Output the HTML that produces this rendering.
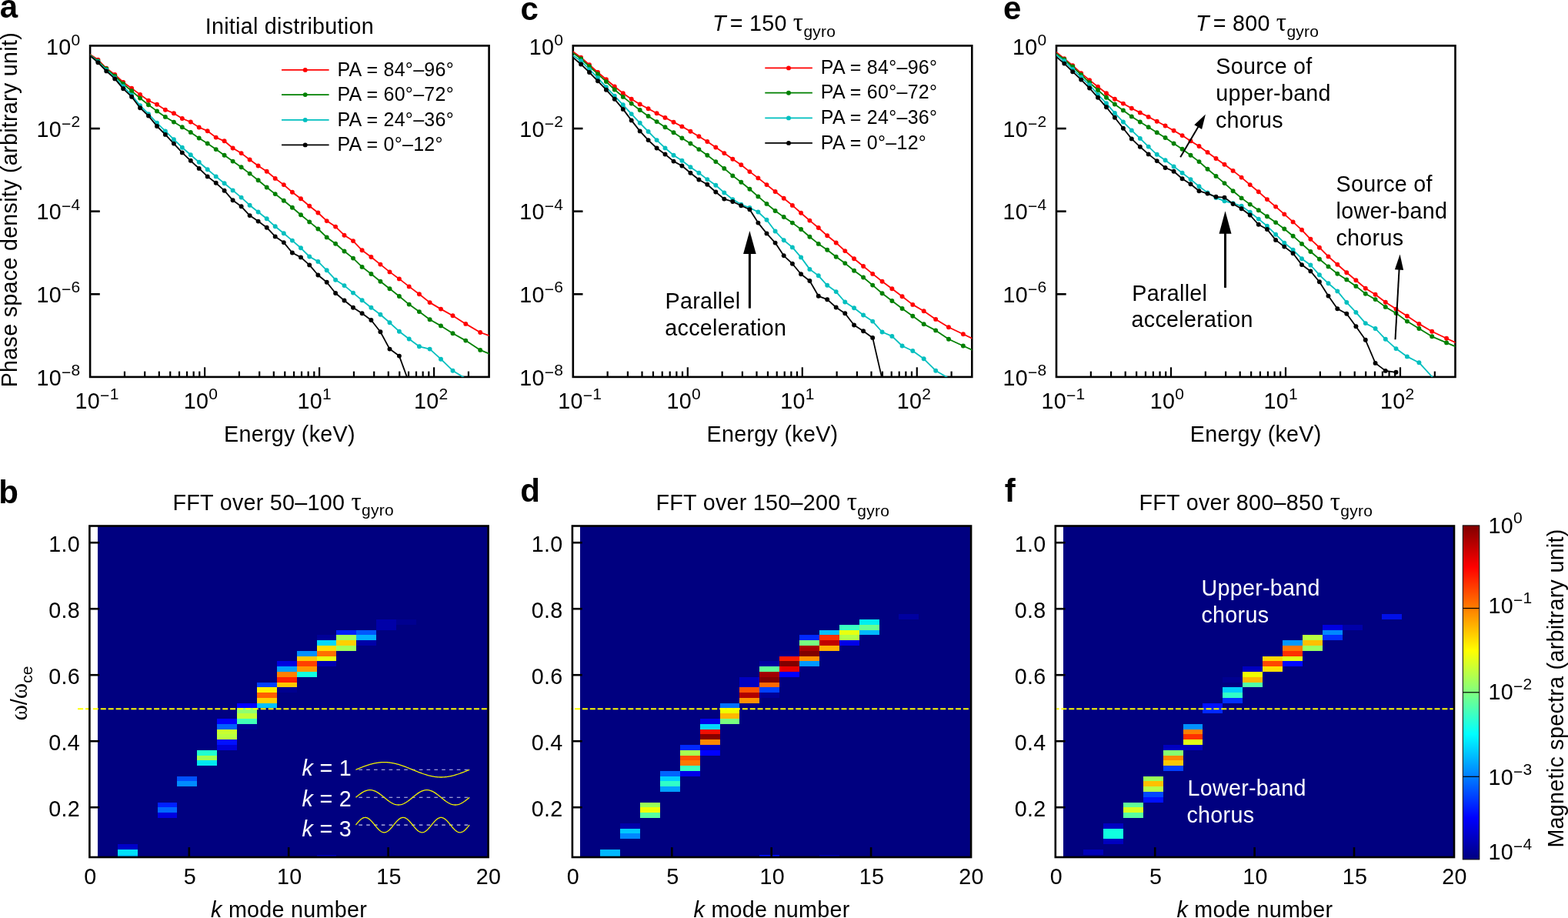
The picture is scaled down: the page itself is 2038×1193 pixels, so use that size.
<!DOCTYPE html>
<html><head><meta charset="utf-8"><title>Figure</title>
<style>html,body{margin:0;padding:0;background:#fff;} svg{display:block;}</style></head>
<body><svg width="2038" height="1193" viewBox="0 0 2038 1193" font-family="'Liberation Sans', Arial, Helvetica, sans-serif" font-size="28.7" fill="#000" letter-spacing="0.28">
<rect width="2038" height="1193" fill="#fff"/>
<line x1="117.10" y1="167.03" x2="129.80" y2="167.03" stroke="#000" stroke-width="2.6" />
<line x1="117.10" y1="274.65" x2="129.80" y2="274.65" stroke="#000" stroke-width="2.6" />
<line x1="117.10" y1="382.27" x2="129.80" y2="382.27" stroke="#000" stroke-width="2.6" />
<line x1="161.95" y1="489.90" x2="161.95" y2="482.60" stroke="#000" stroke-width="2.2" />
<line x1="188.19" y1="489.90" x2="188.19" y2="482.60" stroke="#000" stroke-width="2.2" />
<line x1="206.81" y1="489.90" x2="206.81" y2="482.60" stroke="#000" stroke-width="2.2" />
<line x1="221.25" y1="489.90" x2="221.25" y2="482.60" stroke="#000" stroke-width="2.2" />
<line x1="233.04" y1="489.90" x2="233.04" y2="482.60" stroke="#000" stroke-width="2.2" />
<line x1="243.02" y1="489.90" x2="243.02" y2="482.60" stroke="#000" stroke-width="2.2" />
<line x1="251.66" y1="489.90" x2="251.66" y2="482.60" stroke="#000" stroke-width="2.2" />
<line x1="259.28" y1="489.90" x2="259.28" y2="482.60" stroke="#000" stroke-width="2.2" />
<line x1="266.10" y1="489.90" x2="266.10" y2="477.30" stroke="#000" stroke-width="2.2" />
<line x1="310.95" y1="489.90" x2="310.95" y2="482.60" stroke="#000" stroke-width="2.2" />
<line x1="337.19" y1="489.90" x2="337.19" y2="482.60" stroke="#000" stroke-width="2.2" />
<line x1="355.81" y1="489.90" x2="355.81" y2="482.60" stroke="#000" stroke-width="2.2" />
<line x1="370.25" y1="489.90" x2="370.25" y2="482.60" stroke="#000" stroke-width="2.2" />
<line x1="382.04" y1="489.90" x2="382.04" y2="482.60" stroke="#000" stroke-width="2.2" />
<line x1="392.02" y1="489.90" x2="392.02" y2="482.60" stroke="#000" stroke-width="2.2" />
<line x1="400.66" y1="489.90" x2="400.66" y2="482.60" stroke="#000" stroke-width="2.2" />
<line x1="408.28" y1="489.90" x2="408.28" y2="482.60" stroke="#000" stroke-width="2.2" />
<line x1="415.10" y1="489.90" x2="415.10" y2="477.30" stroke="#000" stroke-width="2.2" />
<line x1="459.95" y1="489.90" x2="459.95" y2="482.60" stroke="#000" stroke-width="2.2" />
<line x1="486.19" y1="489.90" x2="486.19" y2="482.60" stroke="#000" stroke-width="2.2" />
<line x1="504.81" y1="489.90" x2="504.81" y2="482.60" stroke="#000" stroke-width="2.2" />
<line x1="519.25" y1="489.90" x2="519.25" y2="482.60" stroke="#000" stroke-width="2.2" />
<line x1="531.04" y1="489.90" x2="531.04" y2="482.60" stroke="#000" stroke-width="2.2" />
<line x1="541.02" y1="489.90" x2="541.02" y2="482.60" stroke="#000" stroke-width="2.2" />
<line x1="549.66" y1="489.90" x2="549.66" y2="482.60" stroke="#000" stroke-width="2.2" />
<line x1="557.28" y1="489.90" x2="557.28" y2="482.60" stroke="#000" stroke-width="2.2" />
<line x1="564.10" y1="489.90" x2="564.10" y2="477.30" stroke="#000" stroke-width="2.2" />
<line x1="608.95" y1="489.90" x2="608.95" y2="482.60" stroke="#000" stroke-width="2.2" />
<rect x="117.10" y="59.40" width="518.50" height="430.50" fill="none" stroke="#000" stroke-width="2.6"/>
<text x="104.5" y="71.4" text-anchor="end">10<tspan font-size="21.0" dy="-12.6">0</tspan></text>
<text x="104.5" y="177.5" text-anchor="end">10<tspan font-size="21.0" dy="-10.0">−</tspan><tspan font-size="21.0" dy="-2.6">2</tspan></text>
<text x="104.5" y="285.3" text-anchor="end">10<tspan font-size="21.0" dy="-10.0">−</tspan><tspan font-size="21.0" dy="-2.6">4</tspan></text>
<text x="104.5" y="393.0" text-anchor="end">10<tspan font-size="21.0" dy="-10.0">−</tspan><tspan font-size="21.0" dy="-2.6">6</tspan></text>
<text x="104.5" y="500.6" text-anchor="end">10<tspan font-size="21.0" dy="-10.0">−</tspan><tspan font-size="21.0" dy="-2.6">8</tspan></text>
<text x="126.1" y="531.3" text-anchor="middle">10<tspan font-size="21.0" dy="-10.0">−</tspan><tspan font-size="21.0" dy="-2.6">1</tspan></text>
<text x="261.1" y="531.3" text-anchor="middle">10<tspan font-size="21.0" dy="-12.6">0</tspan></text>
<text x="408.8" y="531.3" text-anchor="middle">10<tspan font-size="21.0" dy="-12.6">1</tspan></text>
<text x="560.3" y="531.3" text-anchor="middle">10<tspan font-size="21.0" dy="-12.6">2</tspan></text>
<text x="376.4" y="574.1" font-size="28.7" text-anchor="middle" >Energy (keV)</text>
<line x1="744.80" y1="167.03" x2="757.50" y2="167.03" stroke="#000" stroke-width="2.6" />
<line x1="744.80" y1="274.65" x2="757.50" y2="274.65" stroke="#000" stroke-width="2.6" />
<line x1="744.80" y1="382.27" x2="757.50" y2="382.27" stroke="#000" stroke-width="2.6" />
<line x1="789.65" y1="489.90" x2="789.65" y2="482.60" stroke="#000" stroke-width="2.2" />
<line x1="815.89" y1="489.90" x2="815.89" y2="482.60" stroke="#000" stroke-width="2.2" />
<line x1="834.51" y1="489.90" x2="834.51" y2="482.60" stroke="#000" stroke-width="2.2" />
<line x1="848.95" y1="489.90" x2="848.95" y2="482.60" stroke="#000" stroke-width="2.2" />
<line x1="860.74" y1="489.90" x2="860.74" y2="482.60" stroke="#000" stroke-width="2.2" />
<line x1="870.72" y1="489.90" x2="870.72" y2="482.60" stroke="#000" stroke-width="2.2" />
<line x1="879.36" y1="489.90" x2="879.36" y2="482.60" stroke="#000" stroke-width="2.2" />
<line x1="886.98" y1="489.90" x2="886.98" y2="482.60" stroke="#000" stroke-width="2.2" />
<line x1="893.80" y1="489.90" x2="893.80" y2="477.30" stroke="#000" stroke-width="2.2" />
<line x1="938.65" y1="489.90" x2="938.65" y2="482.60" stroke="#000" stroke-width="2.2" />
<line x1="964.89" y1="489.90" x2="964.89" y2="482.60" stroke="#000" stroke-width="2.2" />
<line x1="983.51" y1="489.90" x2="983.51" y2="482.60" stroke="#000" stroke-width="2.2" />
<line x1="997.95" y1="489.90" x2="997.95" y2="482.60" stroke="#000" stroke-width="2.2" />
<line x1="1009.74" y1="489.90" x2="1009.74" y2="482.60" stroke="#000" stroke-width="2.2" />
<line x1="1019.72" y1="489.90" x2="1019.72" y2="482.60" stroke="#000" stroke-width="2.2" />
<line x1="1028.36" y1="489.90" x2="1028.36" y2="482.60" stroke="#000" stroke-width="2.2" />
<line x1="1035.98" y1="489.90" x2="1035.98" y2="482.60" stroke="#000" stroke-width="2.2" />
<line x1="1042.80" y1="489.90" x2="1042.80" y2="477.30" stroke="#000" stroke-width="2.2" />
<line x1="1087.65" y1="489.90" x2="1087.65" y2="482.60" stroke="#000" stroke-width="2.2" />
<line x1="1113.89" y1="489.90" x2="1113.89" y2="482.60" stroke="#000" stroke-width="2.2" />
<line x1="1132.51" y1="489.90" x2="1132.51" y2="482.60" stroke="#000" stroke-width="2.2" />
<line x1="1146.95" y1="489.90" x2="1146.95" y2="482.60" stroke="#000" stroke-width="2.2" />
<line x1="1158.74" y1="489.90" x2="1158.74" y2="482.60" stroke="#000" stroke-width="2.2" />
<line x1="1168.72" y1="489.90" x2="1168.72" y2="482.60" stroke="#000" stroke-width="2.2" />
<line x1="1177.36" y1="489.90" x2="1177.36" y2="482.60" stroke="#000" stroke-width="2.2" />
<line x1="1184.98" y1="489.90" x2="1184.98" y2="482.60" stroke="#000" stroke-width="2.2" />
<line x1="1191.80" y1="489.90" x2="1191.80" y2="477.30" stroke="#000" stroke-width="2.2" />
<line x1="1236.65" y1="489.90" x2="1236.65" y2="482.60" stroke="#000" stroke-width="2.2" />
<rect x="744.80" y="59.40" width="518.50" height="430.50" fill="none" stroke="#000" stroke-width="2.6"/>
<text x="732.2" y="71.4" text-anchor="end">10<tspan font-size="21.0" dy="-12.6">0</tspan></text>
<text x="732.2" y="177.5" text-anchor="end">10<tspan font-size="21.0" dy="-10.0">−</tspan><tspan font-size="21.0" dy="-2.6">2</tspan></text>
<text x="732.2" y="285.3" text-anchor="end">10<tspan font-size="21.0" dy="-10.0">−</tspan><tspan font-size="21.0" dy="-2.6">4</tspan></text>
<text x="732.2" y="393.0" text-anchor="end">10<tspan font-size="21.0" dy="-10.0">−</tspan><tspan font-size="21.0" dy="-2.6">6</tspan></text>
<text x="732.2" y="500.6" text-anchor="end">10<tspan font-size="21.0" dy="-10.0">−</tspan><tspan font-size="21.0" dy="-2.6">8</tspan></text>
<text x="753.8" y="531.3" text-anchor="middle">10<tspan font-size="21.0" dy="-10.0">−</tspan><tspan font-size="21.0" dy="-2.6">1</tspan></text>
<text x="888.8" y="531.3" text-anchor="middle">10<tspan font-size="21.0" dy="-12.6">0</tspan></text>
<text x="1036.5" y="531.3" text-anchor="middle">10<tspan font-size="21.0" dy="-12.6">1</tspan></text>
<text x="1188.0" y="531.3" text-anchor="middle">10<tspan font-size="21.0" dy="-12.6">2</tspan></text>
<text x="1004.0" y="574.1" font-size="28.7" text-anchor="middle" >Energy (keV)</text>
<line x1="1373.00" y1="167.03" x2="1385.70" y2="167.03" stroke="#000" stroke-width="2.6" />
<line x1="1373.00" y1="274.65" x2="1385.70" y2="274.65" stroke="#000" stroke-width="2.6" />
<line x1="1373.00" y1="382.27" x2="1385.70" y2="382.27" stroke="#000" stroke-width="2.6" />
<line x1="1417.85" y1="489.90" x2="1417.85" y2="482.60" stroke="#000" stroke-width="2.2" />
<line x1="1444.09" y1="489.90" x2="1444.09" y2="482.60" stroke="#000" stroke-width="2.2" />
<line x1="1462.71" y1="489.90" x2="1462.71" y2="482.60" stroke="#000" stroke-width="2.2" />
<line x1="1477.15" y1="489.90" x2="1477.15" y2="482.60" stroke="#000" stroke-width="2.2" />
<line x1="1488.94" y1="489.90" x2="1488.94" y2="482.60" stroke="#000" stroke-width="2.2" />
<line x1="1498.92" y1="489.90" x2="1498.92" y2="482.60" stroke="#000" stroke-width="2.2" />
<line x1="1507.56" y1="489.90" x2="1507.56" y2="482.60" stroke="#000" stroke-width="2.2" />
<line x1="1515.18" y1="489.90" x2="1515.18" y2="482.60" stroke="#000" stroke-width="2.2" />
<line x1="1522.00" y1="489.90" x2="1522.00" y2="477.30" stroke="#000" stroke-width="2.2" />
<line x1="1566.85" y1="489.90" x2="1566.85" y2="482.60" stroke="#000" stroke-width="2.2" />
<line x1="1593.09" y1="489.90" x2="1593.09" y2="482.60" stroke="#000" stroke-width="2.2" />
<line x1="1611.71" y1="489.90" x2="1611.71" y2="482.60" stroke="#000" stroke-width="2.2" />
<line x1="1626.15" y1="489.90" x2="1626.15" y2="482.60" stroke="#000" stroke-width="2.2" />
<line x1="1637.94" y1="489.90" x2="1637.94" y2="482.60" stroke="#000" stroke-width="2.2" />
<line x1="1647.92" y1="489.90" x2="1647.92" y2="482.60" stroke="#000" stroke-width="2.2" />
<line x1="1656.56" y1="489.90" x2="1656.56" y2="482.60" stroke="#000" stroke-width="2.2" />
<line x1="1664.18" y1="489.90" x2="1664.18" y2="482.60" stroke="#000" stroke-width="2.2" />
<line x1="1671.00" y1="489.90" x2="1671.00" y2="477.30" stroke="#000" stroke-width="2.2" />
<line x1="1715.85" y1="489.90" x2="1715.85" y2="482.60" stroke="#000" stroke-width="2.2" />
<line x1="1742.09" y1="489.90" x2="1742.09" y2="482.60" stroke="#000" stroke-width="2.2" />
<line x1="1760.71" y1="489.90" x2="1760.71" y2="482.60" stroke="#000" stroke-width="2.2" />
<line x1="1775.15" y1="489.90" x2="1775.15" y2="482.60" stroke="#000" stroke-width="2.2" />
<line x1="1786.94" y1="489.90" x2="1786.94" y2="482.60" stroke="#000" stroke-width="2.2" />
<line x1="1796.92" y1="489.90" x2="1796.92" y2="482.60" stroke="#000" stroke-width="2.2" />
<line x1="1805.56" y1="489.90" x2="1805.56" y2="482.60" stroke="#000" stroke-width="2.2" />
<line x1="1813.18" y1="489.90" x2="1813.18" y2="482.60" stroke="#000" stroke-width="2.2" />
<line x1="1820.00" y1="489.90" x2="1820.00" y2="477.30" stroke="#000" stroke-width="2.2" />
<line x1="1864.85" y1="489.90" x2="1864.85" y2="482.60" stroke="#000" stroke-width="2.2" />
<rect x="1373.00" y="59.40" width="518.50" height="430.50" fill="none" stroke="#000" stroke-width="2.6"/>
<text x="1360.4" y="71.4" text-anchor="end">10<tspan font-size="21.0" dy="-12.6">0</tspan></text>
<text x="1360.4" y="177.5" text-anchor="end">10<tspan font-size="21.0" dy="-10.0">−</tspan><tspan font-size="21.0" dy="-2.6">2</tspan></text>
<text x="1360.4" y="285.3" text-anchor="end">10<tspan font-size="21.0" dy="-10.0">−</tspan><tspan font-size="21.0" dy="-2.6">4</tspan></text>
<text x="1360.4" y="393.0" text-anchor="end">10<tspan font-size="21.0" dy="-10.0">−</tspan><tspan font-size="21.0" dy="-2.6">6</tspan></text>
<text x="1360.4" y="500.6" text-anchor="end">10<tspan font-size="21.0" dy="-10.0">−</tspan><tspan font-size="21.0" dy="-2.6">8</tspan></text>
<text x="1382.0" y="531.3" text-anchor="middle">10<tspan font-size="21.0" dy="-10.0">−</tspan><tspan font-size="21.0" dy="-2.6">1</tspan></text>
<text x="1517.0" y="531.3" text-anchor="middle">10<tspan font-size="21.0" dy="-12.6">0</tspan></text>
<text x="1664.7" y="531.3" text-anchor="middle">10<tspan font-size="21.0" dy="-12.6">1</tspan></text>
<text x="1816.2" y="531.3" text-anchor="middle">10<tspan font-size="21.0" dy="-12.6">2</tspan></text>
<text x="1632.2" y="574.1" font-size="28.7" text-anchor="middle" >Energy (keV)</text>
<text transform="translate(21.8,503.3) rotate(-90)" x="0" y="0">Phase space density (arbitrary unit)</text>
<text x="376.3" y="44.1" font-size="28.7" text-anchor="middle" >Initial distribution</text>
<text x="926" y="39.9" letter-spacing="0.25"><tspan font-style="italic">T</tspan><tspan dx="-3.2"> = 150 </tspan><tspan font-family="'Liberation Serif', serif" font-size="33">τ</tspan><tspan font-size="21" dy="8">gyro</tspan></text>
<text x="1554" y="39.9" letter-spacing="0.25"><tspan font-style="italic">T</tspan><tspan dx="-3.2"> = 800 </tspan><tspan font-family="'Liberation Serif', serif" font-size="33">τ</tspan><tspan font-size="21" dy="8">gyro</tspan></text>
<text x="-0.3" y="23.0" font-size="42" font-weight="bold">a</text>
<text x="676.6" y="25.8" font-size="42" font-weight="bold">c</text>
<text x="1304" y="25.1" font-size="42" font-weight="bold">e</text>
<text x="-1.8" y="654.4" font-size="42" font-weight="bold">b</text>
<text x="676.3" y="652.4" font-size="42" font-weight="bold">d</text>
<text x="1305.8" y="651.8" font-size="42" font-weight="bold">f</text>
<clipPath id="clipT0"><rect x="117.10" y="59.40" width="518.50" height="430.50"/></clipPath>
<g clip-path="url(#clipT0)">
<polyline points="116.5,70.4 127.4,77.6 138.3,88.8 149.3,96.9 160.2,107.0 171.1,114.8 182.1,122.9 193.0,130.8 204.0,135.8 214.9,142.7 225.9,147.2 236.8,154.0 247.8,158.5 258.7,165.5 269.7,170.2 280.7,178.6 291.6,183.3 302.6,192.5 313.6,199.1 324.6,207.5 335.6,215.5 346.7,222.7 357.7,231.9 368.8,240.1 379.9,249.8 391.0,258.2 402.2,267.8 413.4,276.5 424.7,287.1 436.1,294.6 447.5,305.7 459.0,313.1 470.6,325.3 482.4,334.0 494.4,343.6 506.5,353.4 518.9,362.4 531.7,372.4 544.9,382.2 558.6,393.1 573.0,401.6 588.5,410.3 605.3,420.9 624.2,432.0 646.7,440.2" fill="none" stroke="#ff0000" stroke-width="1.8" stroke-linejoin="round"/>
<g fill="#ff0000"><circle cx="127.4" cy="77.6" r="2.95"/><circle cx="138.3" cy="88.8" r="2.95"/><circle cx="149.3" cy="96.9" r="2.95"/><circle cx="160.2" cy="107.0" r="2.95"/><circle cx="171.1" cy="114.8" r="2.95"/><circle cx="182.1" cy="122.9" r="2.95"/><circle cx="193.0" cy="130.8" r="2.95"/><circle cx="204.0" cy="135.8" r="2.95"/><circle cx="214.9" cy="142.7" r="2.95"/><circle cx="225.9" cy="147.2" r="2.95"/><circle cx="236.8" cy="154.0" r="2.95"/><circle cx="247.8" cy="158.5" r="2.95"/><circle cx="258.7" cy="165.5" r="2.95"/><circle cx="269.7" cy="170.2" r="2.95"/><circle cx="280.7" cy="178.6" r="2.95"/><circle cx="291.6" cy="183.3" r="2.95"/><circle cx="302.6" cy="192.5" r="2.95"/><circle cx="313.6" cy="199.1" r="2.95"/><circle cx="324.6" cy="207.5" r="2.95"/><circle cx="335.6" cy="215.5" r="2.95"/><circle cx="346.7" cy="222.7" r="2.95"/><circle cx="357.7" cy="231.9" r="2.95"/><circle cx="368.8" cy="240.1" r="2.95"/><circle cx="379.9" cy="249.8" r="2.95"/><circle cx="391.0" cy="258.2" r="2.95"/><circle cx="402.2" cy="267.8" r="2.95"/><circle cx="413.4" cy="276.5" r="2.95"/><circle cx="424.7" cy="287.1" r="2.95"/><circle cx="436.1" cy="294.6" r="2.95"/><circle cx="447.5" cy="305.7" r="2.95"/><circle cx="459.0" cy="313.1" r="2.95"/><circle cx="470.6" cy="325.3" r="2.95"/><circle cx="482.4" cy="334.0" r="2.95"/><circle cx="494.4" cy="343.6" r="2.95"/><circle cx="506.5" cy="353.4" r="2.95"/><circle cx="518.9" cy="362.4" r="2.95"/><circle cx="531.7" cy="372.4" r="2.95"/><circle cx="544.9" cy="382.2" r="2.95"/><circle cx="558.6" cy="393.1" r="2.95"/><circle cx="573.0" cy="401.6" r="2.95"/><circle cx="588.5" cy="410.3" r="2.95"/><circle cx="605.3" cy="420.9" r="2.95"/><circle cx="624.2" cy="432.0" r="2.95"/></g>
<polyline points="116.5,71.0 127.4,79.3 138.3,89.4 149.3,98.6 160.2,109.0 171.1,118.2 182.1,127.6 193.0,136.3 204.0,144.4 214.9,151.9 225.9,158.6 236.8,165.2 247.8,171.9 258.7,179.5 269.7,186.5 280.7,194.1 291.6,201.8 302.6,209.6 313.6,217.2 324.6,225.6 335.6,234.3 346.7,243.5 357.7,252.1 368.8,260.7 379.9,269.8 391.0,279.2 402.2,288.4 413.4,297.5 424.7,308.4 436.1,316.7 447.5,326.5 459.0,335.6 470.6,346.9 482.4,356.0 494.4,365.7 506.5,375.2 518.9,385.0 531.7,395.6 544.9,405.1 558.6,415.2 573.0,423.4 588.5,433.2 605.3,442.6 624.2,454.9 646.7,464.0" fill="none" stroke="#008000" stroke-width="1.8" stroke-linejoin="round"/>
<g fill="#008000"><circle cx="127.4" cy="79.3" r="2.95"/><circle cx="138.3" cy="89.4" r="2.95"/><circle cx="149.3" cy="98.6" r="2.95"/><circle cx="160.2" cy="109.0" r="2.95"/><circle cx="171.1" cy="118.2" r="2.95"/><circle cx="182.1" cy="127.6" r="2.95"/><circle cx="193.0" cy="136.3" r="2.95"/><circle cx="204.0" cy="144.4" r="2.95"/><circle cx="214.9" cy="151.9" r="2.95"/><circle cx="225.9" cy="158.6" r="2.95"/><circle cx="236.8" cy="165.2" r="2.95"/><circle cx="247.8" cy="171.9" r="2.95"/><circle cx="258.7" cy="179.5" r="2.95"/><circle cx="269.7" cy="186.5" r="2.95"/><circle cx="280.7" cy="194.1" r="2.95"/><circle cx="291.6" cy="201.8" r="2.95"/><circle cx="302.6" cy="209.6" r="2.95"/><circle cx="313.6" cy="217.2" r="2.95"/><circle cx="324.6" cy="225.6" r="2.95"/><circle cx="335.6" cy="234.3" r="2.95"/><circle cx="346.7" cy="243.5" r="2.95"/><circle cx="357.7" cy="252.1" r="2.95"/><circle cx="368.8" cy="260.7" r="2.95"/><circle cx="379.9" cy="269.8" r="2.95"/><circle cx="391.0" cy="279.2" r="2.95"/><circle cx="402.2" cy="288.4" r="2.95"/><circle cx="413.4" cy="297.5" r="2.95"/><circle cx="424.7" cy="308.4" r="2.95"/><circle cx="436.1" cy="316.7" r="2.95"/><circle cx="447.5" cy="326.5" r="2.95"/><circle cx="459.0" cy="335.6" r="2.95"/><circle cx="470.6" cy="346.9" r="2.95"/><circle cx="482.4" cy="356.0" r="2.95"/><circle cx="494.4" cy="365.7" r="2.95"/><circle cx="506.5" cy="375.2" r="2.95"/><circle cx="518.9" cy="385.0" r="2.95"/><circle cx="531.7" cy="395.6" r="2.95"/><circle cx="544.9" cy="405.1" r="2.95"/><circle cx="558.6" cy="415.2" r="2.95"/><circle cx="573.0" cy="423.4" r="2.95"/><circle cx="588.5" cy="433.2" r="2.95"/><circle cx="605.3" cy="442.6" r="2.95"/><circle cx="624.2" cy="454.9" r="2.95"/></g>
<polyline points="116.5,71.5 127.4,80.3 138.3,91.0 149.3,101.1 160.2,112.3 171.1,123.4 182.1,137.2 193.0,148.1 204.0,159.8 214.9,170.4 225.9,181.1 236.8,191.7 247.8,201.3 258.7,210.8 269.7,220.2 280.7,229.4 291.6,238.3 302.6,247.4 313.6,256.6 324.6,266.7 335.6,275.5 346.7,284.3 357.7,294.3 368.8,303.2 379.9,312.6 391.0,322.3 402.2,333.5 413.4,339.9 424.7,351.3 436.1,363.7 447.5,371.1 459.0,380.6 470.6,390.2 482.4,399.7 494.4,408.7 506.5,419.3 518.9,430.7 531.7,440.5 544.9,450.3 558.6,453.6 573.0,466.7 588.5,481.7 605.3,492.0" fill="none" stroke="#00bfbf" stroke-width="1.8" stroke-linejoin="round"/>
<g fill="#00bfbf"><circle cx="127.4" cy="80.3" r="2.95"/><circle cx="138.3" cy="91.0" r="2.95"/><circle cx="149.3" cy="101.1" r="2.95"/><circle cx="160.2" cy="112.3" r="2.95"/><circle cx="171.1" cy="123.4" r="2.95"/><circle cx="182.1" cy="137.2" r="2.95"/><circle cx="193.0" cy="148.1" r="2.95"/><circle cx="204.0" cy="159.8" r="2.95"/><circle cx="214.9" cy="170.4" r="2.95"/><circle cx="225.9" cy="181.1" r="2.95"/><circle cx="236.8" cy="191.7" r="2.95"/><circle cx="247.8" cy="201.3" r="2.95"/><circle cx="258.7" cy="210.8" r="2.95"/><circle cx="269.7" cy="220.2" r="2.95"/><circle cx="280.7" cy="229.4" r="2.95"/><circle cx="291.6" cy="238.3" r="2.95"/><circle cx="302.6" cy="247.4" r="2.95"/><circle cx="313.6" cy="256.6" r="2.95"/><circle cx="324.6" cy="266.7" r="2.95"/><circle cx="335.6" cy="275.5" r="2.95"/><circle cx="346.7" cy="284.3" r="2.95"/><circle cx="357.7" cy="294.3" r="2.95"/><circle cx="368.8" cy="303.2" r="2.95"/><circle cx="379.9" cy="312.6" r="2.95"/><circle cx="391.0" cy="322.3" r="2.95"/><circle cx="402.2" cy="333.5" r="2.95"/><circle cx="413.4" cy="339.9" r="2.95"/><circle cx="424.7" cy="351.3" r="2.95"/><circle cx="436.1" cy="363.7" r="2.95"/><circle cx="447.5" cy="371.1" r="2.95"/><circle cx="459.0" cy="380.6" r="2.95"/><circle cx="470.6" cy="390.2" r="2.95"/><circle cx="482.4" cy="399.7" r="2.95"/><circle cx="494.4" cy="408.7" r="2.95"/><circle cx="506.5" cy="419.3" r="2.95"/><circle cx="518.9" cy="430.7" r="2.95"/><circle cx="531.7" cy="440.5" r="2.95"/><circle cx="544.9" cy="450.3" r="2.95"/><circle cx="558.6" cy="453.6" r="2.95"/><circle cx="573.0" cy="466.7" r="2.95"/><circle cx="588.5" cy="481.7" r="2.95"/></g>
<polyline points="116.5,72.0 127.4,81.3 138.3,92.4 149.3,102.4 160.2,115.3 171.1,125.7 182.1,140.2 193.0,150.6 204.0,164.0 214.9,174.9 225.9,186.6 236.8,198.4 247.8,208.8 258.7,218.9 269.7,229.4 280.7,237.8 291.6,247.7 302.6,260.3 313.6,268.3 324.6,280.1 335.6,287.6 346.7,295.7 357.7,307.4 368.8,315.1 379.9,328.5 391.0,334.4 402.2,344.4 413.4,357.5 424.7,366.7 436.1,381.0 447.5,390.5 459.0,399.7 470.6,407.2 482.4,416.0 494.4,431.2 506.5,453.6 518.9,462.6 531.7,497.4" fill="none" stroke="#000000" stroke-width="1.8" stroke-linejoin="round"/>
<g fill="#000000"><circle cx="127.4" cy="81.3" r="2.95"/><circle cx="138.3" cy="92.4" r="2.95"/><circle cx="149.3" cy="102.4" r="2.95"/><circle cx="160.2" cy="115.3" r="2.95"/><circle cx="171.1" cy="125.7" r="2.95"/><circle cx="182.1" cy="140.2" r="2.95"/><circle cx="193.0" cy="150.6" r="2.95"/><circle cx="204.0" cy="164.0" r="2.95"/><circle cx="214.9" cy="174.9" r="2.95"/><circle cx="225.9" cy="186.6" r="2.95"/><circle cx="236.8" cy="198.4" r="2.95"/><circle cx="247.8" cy="208.8" r="2.95"/><circle cx="258.7" cy="218.9" r="2.95"/><circle cx="269.7" cy="229.4" r="2.95"/><circle cx="280.7" cy="237.8" r="2.95"/><circle cx="291.6" cy="247.7" r="2.95"/><circle cx="302.6" cy="260.3" r="2.95"/><circle cx="313.6" cy="268.3" r="2.95"/><circle cx="324.6" cy="280.1" r="2.95"/><circle cx="335.6" cy="287.6" r="2.95"/><circle cx="346.7" cy="295.7" r="2.95"/><circle cx="357.7" cy="307.4" r="2.95"/><circle cx="368.8" cy="315.1" r="2.95"/><circle cx="379.9" cy="328.5" r="2.95"/><circle cx="391.0" cy="334.4" r="2.95"/><circle cx="402.2" cy="344.4" r="2.95"/><circle cx="413.4" cy="357.5" r="2.95"/><circle cx="424.7" cy="366.7" r="2.95"/><circle cx="436.1" cy="381.0" r="2.95"/><circle cx="447.5" cy="390.5" r="2.95"/><circle cx="459.0" cy="399.7" r="2.95"/><circle cx="470.6" cy="407.2" r="2.95"/><circle cx="482.4" cy="416.0" r="2.95"/><circle cx="494.4" cy="431.2" r="2.95"/><circle cx="506.5" cy="453.6" r="2.95"/><circle cx="518.9" cy="462.6" r="2.95"/></g>
</g>
<clipPath id="clipT1"><rect x="744.80" y="59.40" width="518.50" height="430.50"/></clipPath>
<g clip-path="url(#clipT1)">
<polyline points="744.2,66.7 755.1,74.8 766.0,84.3 777.0,94.0 787.9,103.3 798.8,112.5 809.8,121.2 820.7,128.8 831.7,135.5 842.6,141.3 853.6,147.2 864.5,152.9 875.5,158.8 886.4,164.4 897.4,170.7 908.4,177.3 919.3,184.0 930.3,191.5 941.3,199.1 952.3,206.8 963.3,214.3 974.4,223.1 985.4,231.4 996.5,240.1 1007.6,249.0 1018.7,257.7 1029.9,266.9 1041.1,276.7 1052.4,286.6 1063.8,296.0 1075.2,306.3 1086.7,315.5 1098.3,326.1 1110.1,336.3 1122.1,346.0 1134.2,355.9 1146.6,365.7 1159.4,375.2 1172.6,385.3 1186.3,395.9 1200.7,404.2 1216.2,414.9 1233.0,425.3 1251.9,434.3 1274.4,445.0" fill="none" stroke="#ff0000" stroke-width="1.8" stroke-linejoin="round"/>
<g fill="#ff0000"><circle cx="755.1" cy="74.8" r="2.95"/><circle cx="766.0" cy="84.3" r="2.95"/><circle cx="777.0" cy="94.0" r="2.95"/><circle cx="787.9" cy="103.3" r="2.95"/><circle cx="798.8" cy="112.5" r="2.95"/><circle cx="809.8" cy="121.2" r="2.95"/><circle cx="820.7" cy="128.8" r="2.95"/><circle cx="831.7" cy="135.5" r="2.95"/><circle cx="842.6" cy="141.3" r="2.95"/><circle cx="853.6" cy="147.2" r="2.95"/><circle cx="864.5" cy="152.9" r="2.95"/><circle cx="875.5" cy="158.8" r="2.95"/><circle cx="886.4" cy="164.4" r="2.95"/><circle cx="897.4" cy="170.7" r="2.95"/><circle cx="908.4" cy="177.3" r="2.95"/><circle cx="919.3" cy="184.0" r="2.95"/><circle cx="930.3" cy="191.5" r="2.95"/><circle cx="941.3" cy="199.1" r="2.95"/><circle cx="952.3" cy="206.8" r="2.95"/><circle cx="963.3" cy="214.3" r="2.95"/><circle cx="974.4" cy="223.1" r="2.95"/><circle cx="985.4" cy="231.4" r="2.95"/><circle cx="996.5" cy="240.1" r="2.95"/><circle cx="1007.6" cy="249.0" r="2.95"/><circle cx="1018.7" cy="257.7" r="2.95"/><circle cx="1029.9" cy="266.9" r="2.95"/><circle cx="1041.1" cy="276.7" r="2.95"/><circle cx="1052.4" cy="286.6" r="2.95"/><circle cx="1063.8" cy="296.0" r="2.95"/><circle cx="1075.2" cy="306.3" r="2.95"/><circle cx="1086.7" cy="315.5" r="2.95"/><circle cx="1098.3" cy="326.1" r="2.95"/><circle cx="1110.1" cy="336.3" r="2.95"/><circle cx="1122.1" cy="346.0" r="2.95"/><circle cx="1134.2" cy="355.9" r="2.95"/><circle cx="1146.6" cy="365.7" r="2.95"/><circle cx="1159.4" cy="375.2" r="2.95"/><circle cx="1172.6" cy="385.3" r="2.95"/><circle cx="1186.3" cy="395.9" r="2.95"/><circle cx="1200.7" cy="404.2" r="2.95"/><circle cx="1216.2" cy="414.9" r="2.95"/><circle cx="1233.0" cy="425.3" r="2.95"/><circle cx="1251.9" cy="434.3" r="2.95"/></g>
<polyline points="744.2,68.4 755.1,76.4 766.0,86.3 777.0,96.1 787.9,106.1 798.8,116.5 809.8,125.9 820.7,134.6 831.7,143.0 842.6,150.9 853.6,158.1 864.5,165.2 875.5,172.3 886.4,179.5 897.4,186.5 908.4,194.1 919.3,201.8 930.3,210.1 941.3,218.9 952.3,228.4 963.3,236.8 974.4,245.7 985.4,255.4 996.5,264.9 1007.6,274.0 1018.7,282.0 1029.9,289.6 1041.1,298.0 1052.4,307.7 1063.8,316.9 1075.2,324.8 1086.7,333.8 1098.3,342.1 1110.1,351.7 1122.1,360.5 1134.2,370.6 1146.6,381.2 1159.4,391.0 1172.6,401.0 1186.3,410.8 1200.7,421.2 1216.2,429.4 1233.0,440.8 1251.9,449.5 1274.4,459.8" fill="none" stroke="#008000" stroke-width="1.8" stroke-linejoin="round"/>
<g fill="#008000"><circle cx="755.1" cy="76.4" r="2.95"/><circle cx="766.0" cy="86.3" r="2.95"/><circle cx="777.0" cy="96.1" r="2.95"/><circle cx="787.9" cy="106.1" r="2.95"/><circle cx="798.8" cy="116.5" r="2.95"/><circle cx="809.8" cy="125.9" r="2.95"/><circle cx="820.7" cy="134.6" r="2.95"/><circle cx="831.7" cy="143.0" r="2.95"/><circle cx="842.6" cy="150.9" r="2.95"/><circle cx="853.6" cy="158.1" r="2.95"/><circle cx="864.5" cy="165.2" r="2.95"/><circle cx="875.5" cy="172.3" r="2.95"/><circle cx="886.4" cy="179.5" r="2.95"/><circle cx="897.4" cy="186.5" r="2.95"/><circle cx="908.4" cy="194.1" r="2.95"/><circle cx="919.3" cy="201.8" r="2.95"/><circle cx="930.3" cy="210.1" r="2.95"/><circle cx="941.3" cy="218.9" r="2.95"/><circle cx="952.3" cy="228.4" r="2.95"/><circle cx="963.3" cy="236.8" r="2.95"/><circle cx="974.4" cy="245.7" r="2.95"/><circle cx="985.4" cy="255.4" r="2.95"/><circle cx="996.5" cy="264.9" r="2.95"/><circle cx="1007.6" cy="274.0" r="2.95"/><circle cx="1018.7" cy="282.0" r="2.95"/><circle cx="1029.9" cy="289.6" r="2.95"/><circle cx="1041.1" cy="298.0" r="2.95"/><circle cx="1052.4" cy="307.7" r="2.95"/><circle cx="1063.8" cy="316.9" r="2.95"/><circle cx="1075.2" cy="324.8" r="2.95"/><circle cx="1086.7" cy="333.8" r="2.95"/><circle cx="1098.3" cy="342.1" r="2.95"/><circle cx="1110.1" cy="351.7" r="2.95"/><circle cx="1122.1" cy="360.5" r="2.95"/><circle cx="1134.2" cy="370.6" r="2.95"/><circle cx="1146.6" cy="381.2" r="2.95"/><circle cx="1159.4" cy="391.0" r="2.95"/><circle cx="1172.6" cy="401.0" r="2.95"/><circle cx="1186.3" cy="410.8" r="2.95"/><circle cx="1200.7" cy="421.2" r="2.95"/><circle cx="1216.2" cy="429.4" r="2.95"/><circle cx="1233.0" cy="440.8" r="2.95"/><circle cx="1251.9" cy="449.5" r="2.95"/></g>
<polyline points="744.2,71.7 755.1,79.3 766.0,90.2 777.0,101.1 787.9,113.3 798.8,124.6 809.8,136.3 820.7,148.1 831.7,159.8 842.6,171.0 853.6,182.1 864.5,192.4 875.5,201.8 886.4,208.8 897.4,217.2 908.4,224.7 919.3,233.1 930.3,240.7 941.3,250.4 952.3,259.1 963.3,265.8 974.4,270.0 985.4,275.5 996.5,285.8 1007.6,300.5 1018.7,312.2 1029.9,321.4 1041.1,334.4 1052.4,349.9 1063.8,358.3 1075.2,370.8 1086.7,379.1 1098.3,392.5 1110.1,400.2 1122.1,409.5 1134.2,417.6 1146.6,431.5 1159.4,436.9 1172.6,449.5 1186.3,456.0 1200.7,466.3 1216.2,481.7 1233.0,491.5" fill="none" stroke="#00bfbf" stroke-width="1.8" stroke-linejoin="round"/>
<g fill="#00bfbf"><circle cx="755.1" cy="79.3" r="2.95"/><circle cx="766.0" cy="90.2" r="2.95"/><circle cx="777.0" cy="101.1" r="2.95"/><circle cx="787.9" cy="113.3" r="2.95"/><circle cx="798.8" cy="124.6" r="2.95"/><circle cx="809.8" cy="136.3" r="2.95"/><circle cx="820.7" cy="148.1" r="2.95"/><circle cx="831.7" cy="159.8" r="2.95"/><circle cx="842.6" cy="171.0" r="2.95"/><circle cx="853.6" cy="182.1" r="2.95"/><circle cx="864.5" cy="192.4" r="2.95"/><circle cx="875.5" cy="201.8" r="2.95"/><circle cx="886.4" cy="208.8" r="2.95"/><circle cx="897.4" cy="217.2" r="2.95"/><circle cx="908.4" cy="224.7" r="2.95"/><circle cx="919.3" cy="233.1" r="2.95"/><circle cx="930.3" cy="240.7" r="2.95"/><circle cx="941.3" cy="250.4" r="2.95"/><circle cx="952.3" cy="259.1" r="2.95"/><circle cx="963.3" cy="265.8" r="2.95"/><circle cx="974.4" cy="270.0" r="2.95"/><circle cx="985.4" cy="275.5" r="2.95"/><circle cx="996.5" cy="285.8" r="2.95"/><circle cx="1007.6" cy="300.5" r="2.95"/><circle cx="1018.7" cy="312.2" r="2.95"/><circle cx="1029.9" cy="321.4" r="2.95"/><circle cx="1041.1" cy="334.4" r="2.95"/><circle cx="1052.4" cy="349.9" r="2.95"/><circle cx="1063.8" cy="358.3" r="2.95"/><circle cx="1075.2" cy="370.8" r="2.95"/><circle cx="1086.7" cy="379.1" r="2.95"/><circle cx="1098.3" cy="392.5" r="2.95"/><circle cx="1110.1" cy="400.2" r="2.95"/><circle cx="1122.1" cy="409.5" r="2.95"/><circle cx="1134.2" cy="417.6" r="2.95"/><circle cx="1146.6" cy="431.5" r="2.95"/><circle cx="1159.4" cy="436.9" r="2.95"/><circle cx="1172.6" cy="449.5" r="2.95"/><circle cx="1186.3" cy="456.0" r="2.95"/><circle cx="1200.7" cy="466.3" r="2.95"/><circle cx="1216.2" cy="481.7" r="2.95"/></g>
<polyline points="744.2,74.3 755.1,83.5 766.0,94.0 777.0,105.3 787.9,116.7 798.8,128.8 809.8,141.9 820.7,156.4 831.7,170.4 842.6,182.1 853.6,192.5 864.5,200.5 875.5,209.6 886.4,215.5 897.4,224.7 908.4,233.5 919.3,239.8 930.3,249.5 941.3,258.6 952.3,262.0 963.3,267.2 974.4,272.2 985.4,289.6 996.5,303.4 1007.6,315.6 1018.7,332.3 1029.9,342.7 1041.1,356.2 1052.4,365.0 1063.8,384.8 1075.2,389.2 1086.7,399.5 1098.3,407.2 1110.1,422.5 1122.1,430.2 1134.2,438.9 1146.6,492.7" fill="none" stroke="#000000" stroke-width="1.8" stroke-linejoin="round"/>
<g fill="#000000"><circle cx="755.1" cy="83.5" r="2.95"/><circle cx="766.0" cy="94.0" r="2.95"/><circle cx="777.0" cy="105.3" r="2.95"/><circle cx="787.9" cy="116.7" r="2.95"/><circle cx="798.8" cy="128.8" r="2.95"/><circle cx="809.8" cy="141.9" r="2.95"/><circle cx="820.7" cy="156.4" r="2.95"/><circle cx="831.7" cy="170.4" r="2.95"/><circle cx="842.6" cy="182.1" r="2.95"/><circle cx="853.6" cy="192.5" r="2.95"/><circle cx="864.5" cy="200.5" r="2.95"/><circle cx="875.5" cy="209.6" r="2.95"/><circle cx="886.4" cy="215.5" r="2.95"/><circle cx="897.4" cy="224.7" r="2.95"/><circle cx="908.4" cy="233.5" r="2.95"/><circle cx="919.3" cy="239.8" r="2.95"/><circle cx="930.3" cy="249.5" r="2.95"/><circle cx="941.3" cy="258.6" r="2.95"/><circle cx="952.3" cy="262.0" r="2.95"/><circle cx="963.3" cy="267.2" r="2.95"/><circle cx="974.4" cy="272.2" r="2.95"/><circle cx="985.4" cy="289.6" r="2.95"/><circle cx="996.5" cy="303.4" r="2.95"/><circle cx="1007.6" cy="315.6" r="2.95"/><circle cx="1018.7" cy="332.3" r="2.95"/><circle cx="1029.9" cy="342.7" r="2.95"/><circle cx="1041.1" cy="356.2" r="2.95"/><circle cx="1052.4" cy="365.0" r="2.95"/><circle cx="1063.8" cy="384.8" r="2.95"/><circle cx="1075.2" cy="389.2" r="2.95"/><circle cx="1086.7" cy="399.5" r="2.95"/><circle cx="1098.3" cy="407.2" r="2.95"/><circle cx="1110.1" cy="422.5" r="2.95"/><circle cx="1122.1" cy="430.2" r="2.95"/><circle cx="1134.2" cy="438.9" r="2.95"/></g>
</g>
<clipPath id="clipT2"><rect x="1373.00" y="59.40" width="518.50" height="430.50"/></clipPath>
<g clip-path="url(#clipT2)">
<polyline points="1372.4,67.5 1383.3,76.3 1394.2,85.2 1405.2,95.2 1416.1,104.1 1427.0,112.8 1438.0,121.2 1448.9,128.8 1459.9,134.6 1470.8,140.8 1481.8,146.4 1492.7,151.9 1503.7,157.7 1514.6,163.5 1525.6,169.7 1536.6,176.1 1547.5,183.2 1558.5,190.0 1569.5,197.9 1580.5,206.0 1591.5,213.8 1602.6,221.9 1613.6,230.6 1624.7,240.1 1635.8,249.3 1646.9,259.1 1658.1,268.6 1669.3,278.4 1680.6,288.4 1692.0,298.8 1703.4,310.8 1714.9,321.7 1726.5,333.4 1738.3,343.8 1750.3,354.3 1762.4,364.2 1774.8,374.8 1787.6,382.8 1800.8,392.8 1814.5,401.6 1828.9,410.8 1844.4,420.9 1861.2,430.7 1880.1,439.7 1902.6,450.4" fill="none" stroke="#ff0000" stroke-width="1.8" stroke-linejoin="round"/>
<g fill="#ff0000"><circle cx="1383.3" cy="76.3" r="2.95"/><circle cx="1394.2" cy="85.2" r="2.95"/><circle cx="1405.2" cy="95.2" r="2.95"/><circle cx="1416.1" cy="104.1" r="2.95"/><circle cx="1427.0" cy="112.8" r="2.95"/><circle cx="1438.0" cy="121.2" r="2.95"/><circle cx="1448.9" cy="128.8" r="2.95"/><circle cx="1459.9" cy="134.6" r="2.95"/><circle cx="1470.8" cy="140.8" r="2.95"/><circle cx="1481.8" cy="146.4" r="2.95"/><circle cx="1492.7" cy="151.9" r="2.95"/><circle cx="1503.7" cy="157.7" r="2.95"/><circle cx="1514.6" cy="163.5" r="2.95"/><circle cx="1525.6" cy="169.7" r="2.95"/><circle cx="1536.6" cy="176.1" r="2.95"/><circle cx="1547.5" cy="183.2" r="2.95"/><circle cx="1558.5" cy="190.0" r="2.95"/><circle cx="1569.5" cy="197.9" r="2.95"/><circle cx="1580.5" cy="206.0" r="2.95"/><circle cx="1591.5" cy="213.8" r="2.95"/><circle cx="1602.6" cy="221.9" r="2.95"/><circle cx="1613.6" cy="230.6" r="2.95"/><circle cx="1624.7" cy="240.1" r="2.95"/><circle cx="1635.8" cy="249.3" r="2.95"/><circle cx="1646.9" cy="259.1" r="2.95"/><circle cx="1658.1" cy="268.6" r="2.95"/><circle cx="1669.3" cy="278.4" r="2.95"/><circle cx="1680.6" cy="288.4" r="2.95"/><circle cx="1692.0" cy="298.8" r="2.95"/><circle cx="1703.4" cy="310.8" r="2.95"/><circle cx="1714.9" cy="321.7" r="2.95"/><circle cx="1726.5" cy="333.4" r="2.95"/><circle cx="1738.3" cy="343.8" r="2.95"/><circle cx="1750.3" cy="354.3" r="2.95"/><circle cx="1762.4" cy="364.2" r="2.95"/><circle cx="1774.8" cy="374.8" r="2.95"/><circle cx="1787.6" cy="382.8" r="2.95"/><circle cx="1800.8" cy="392.8" r="2.95"/><circle cx="1814.5" cy="401.6" r="2.95"/><circle cx="1828.9" cy="410.8" r="2.95"/><circle cx="1844.4" cy="420.9" r="2.95"/><circle cx="1861.2" cy="430.7" r="2.95"/><circle cx="1880.1" cy="439.7" r="2.95"/></g>
<polyline points="1372.4,69.2 1383.3,77.3 1394.2,86.8 1405.2,97.2 1416.1,107.3 1427.0,117.0 1438.0,126.8 1448.9,135.5 1459.9,143.4 1470.8,151.4 1481.8,158.5 1492.7,165.2 1503.7,172.3 1514.6,179.0 1525.6,186.5 1536.6,193.7 1547.5,201.8 1558.5,210.1 1569.5,219.7 1580.5,228.9 1591.5,238.1 1602.6,248.2 1613.6,257.4 1624.7,265.6 1635.8,273.3 1646.9,281.2 1658.1,289.1 1669.3,297.5 1680.6,306.7 1692.0,316.9 1703.4,327.0 1714.9,336.8 1726.5,346.4 1738.3,355.7 1750.3,363.4 1762.4,371.9 1774.8,381.7 1787.6,389.1 1800.8,398.9 1814.5,407.0 1828.9,417.6 1844.4,427.0 1861.2,437.3 1880.1,445.4 1902.6,454.9" fill="none" stroke="#008000" stroke-width="1.8" stroke-linejoin="round"/>
<g fill="#008000"><circle cx="1383.3" cy="77.3" r="2.95"/><circle cx="1394.2" cy="86.8" r="2.95"/><circle cx="1405.2" cy="97.2" r="2.95"/><circle cx="1416.1" cy="107.3" r="2.95"/><circle cx="1427.0" cy="117.0" r="2.95"/><circle cx="1438.0" cy="126.8" r="2.95"/><circle cx="1448.9" cy="135.5" r="2.95"/><circle cx="1459.9" cy="143.4" r="2.95"/><circle cx="1470.8" cy="151.4" r="2.95"/><circle cx="1481.8" cy="158.5" r="2.95"/><circle cx="1492.7" cy="165.2" r="2.95"/><circle cx="1503.7" cy="172.3" r="2.95"/><circle cx="1514.6" cy="179.0" r="2.95"/><circle cx="1525.6" cy="186.5" r="2.95"/><circle cx="1536.6" cy="193.7" r="2.95"/><circle cx="1547.5" cy="201.8" r="2.95"/><circle cx="1558.5" cy="210.1" r="2.95"/><circle cx="1569.5" cy="219.7" r="2.95"/><circle cx="1580.5" cy="228.9" r="2.95"/><circle cx="1591.5" cy="238.1" r="2.95"/><circle cx="1602.6" cy="248.2" r="2.95"/><circle cx="1613.6" cy="257.4" r="2.95"/><circle cx="1624.7" cy="265.6" r="2.95"/><circle cx="1635.8" cy="273.3" r="2.95"/><circle cx="1646.9" cy="281.2" r="2.95"/><circle cx="1658.1" cy="289.1" r="2.95"/><circle cx="1669.3" cy="297.5" r="2.95"/><circle cx="1680.6" cy="306.7" r="2.95"/><circle cx="1692.0" cy="316.9" r="2.95"/><circle cx="1703.4" cy="327.0" r="2.95"/><circle cx="1714.9" cy="336.8" r="2.95"/><circle cx="1726.5" cy="346.4" r="2.95"/><circle cx="1738.3" cy="355.7" r="2.95"/><circle cx="1750.3" cy="363.4" r="2.95"/><circle cx="1762.4" cy="371.9" r="2.95"/><circle cx="1774.8" cy="381.7" r="2.95"/><circle cx="1787.6" cy="389.1" r="2.95"/><circle cx="1800.8" cy="398.9" r="2.95"/><circle cx="1814.5" cy="407.0" r="2.95"/><circle cx="1828.9" cy="417.6" r="2.95"/><circle cx="1844.4" cy="427.0" r="2.95"/><circle cx="1861.2" cy="437.3" r="2.95"/><circle cx="1880.1" cy="445.4" r="2.95"/></g>
<polyline points="1372.4,70.9 1383.3,79.3 1394.2,89.9 1405.2,100.3 1416.1,110.3 1427.0,122.9 1438.0,134.3 1448.9,146.9 1459.9,158.5 1470.8,169.4 1481.8,179.9 1492.7,190.6 1503.7,200.8 1514.6,208.3 1525.6,216.4 1536.6,224.7 1547.5,233.1 1558.5,242.3 1569.5,250.4 1580.5,256.9 1591.5,261.3 1602.6,264.1 1613.6,267.8 1624.7,275.8 1635.8,284.6 1646.9,293.8 1658.1,304.7 1669.3,315.6 1680.6,324.8 1692.0,336.2 1703.4,344.5 1714.9,357.3 1726.5,368.3 1738.3,378.4 1750.3,393.0 1762.4,405.9 1774.8,420.1 1787.6,427.0 1800.8,440.8 1814.5,453.1 1828.9,463.4 1844.4,471.2 1861.2,489.5 1880.1,508.0" fill="none" stroke="#00bfbf" stroke-width="1.8" stroke-linejoin="round"/>
<g fill="#00bfbf"><circle cx="1383.3" cy="79.3" r="2.95"/><circle cx="1394.2" cy="89.9" r="2.95"/><circle cx="1405.2" cy="100.3" r="2.95"/><circle cx="1416.1" cy="110.3" r="2.95"/><circle cx="1427.0" cy="122.9" r="2.95"/><circle cx="1438.0" cy="134.3" r="2.95"/><circle cx="1448.9" cy="146.9" r="2.95"/><circle cx="1459.9" cy="158.5" r="2.95"/><circle cx="1470.8" cy="169.4" r="2.95"/><circle cx="1481.8" cy="179.9" r="2.95"/><circle cx="1492.7" cy="190.6" r="2.95"/><circle cx="1503.7" cy="200.8" r="2.95"/><circle cx="1514.6" cy="208.3" r="2.95"/><circle cx="1525.6" cy="216.4" r="2.95"/><circle cx="1536.6" cy="224.7" r="2.95"/><circle cx="1547.5" cy="233.1" r="2.95"/><circle cx="1558.5" cy="242.3" r="2.95"/><circle cx="1569.5" cy="250.4" r="2.95"/><circle cx="1580.5" cy="256.9" r="2.95"/><circle cx="1591.5" cy="261.3" r="2.95"/><circle cx="1602.6" cy="264.1" r="2.95"/><circle cx="1613.6" cy="267.8" r="2.95"/><circle cx="1624.7" cy="275.8" r="2.95"/><circle cx="1635.8" cy="284.6" r="2.95"/><circle cx="1646.9" cy="293.8" r="2.95"/><circle cx="1658.1" cy="304.7" r="2.95"/><circle cx="1669.3" cy="315.6" r="2.95"/><circle cx="1680.6" cy="324.8" r="2.95"/><circle cx="1692.0" cy="336.2" r="2.95"/><circle cx="1703.4" cy="344.5" r="2.95"/><circle cx="1714.9" cy="357.3" r="2.95"/><circle cx="1726.5" cy="368.3" r="2.95"/><circle cx="1738.3" cy="378.4" r="2.95"/><circle cx="1750.3" cy="393.0" r="2.95"/><circle cx="1762.4" cy="405.9" r="2.95"/><circle cx="1774.8" cy="420.1" r="2.95"/><circle cx="1787.6" cy="427.0" r="2.95"/><circle cx="1800.8" cy="440.8" r="2.95"/><circle cx="1814.5" cy="453.1" r="2.95"/><circle cx="1828.9" cy="463.4" r="2.95"/><circle cx="1844.4" cy="471.2" r="2.95"/></g>
<polyline points="1372.4,73.4 1383.3,82.6 1394.2,93.2 1405.2,103.6 1416.1,114.5 1427.0,126.8 1438.0,139.3 1448.9,152.8 1459.9,166.8 1470.8,180.4 1481.8,190.8 1492.7,200.4 1503.7,209.1 1514.6,218.0 1525.6,222.7 1536.6,232.3 1547.5,239.3 1558.5,248.2 1569.5,251.6 1580.5,255.8 1591.5,256.6 1602.6,265.0 1613.6,271.3 1624.7,279.5 1635.8,291.8 1646.9,298.0 1658.1,311.9 1669.3,320.6 1680.6,329.3 1692.0,344.1 1703.4,352.4 1714.9,366.3 1726.5,384.6 1738.3,401.2 1750.3,407.8 1762.4,424.2 1774.8,441.8 1787.6,471.9 1800.8,481.9 1814.5,483.8" fill="none" stroke="#000000" stroke-width="1.8" stroke-linejoin="round"/>
<g fill="#000000"><circle cx="1383.3" cy="82.6" r="2.95"/><circle cx="1394.2" cy="93.2" r="2.95"/><circle cx="1405.2" cy="103.6" r="2.95"/><circle cx="1416.1" cy="114.5" r="2.95"/><circle cx="1427.0" cy="126.8" r="2.95"/><circle cx="1438.0" cy="139.3" r="2.95"/><circle cx="1448.9" cy="152.8" r="2.95"/><circle cx="1459.9" cy="166.8" r="2.95"/><circle cx="1470.8" cy="180.4" r="2.95"/><circle cx="1481.8" cy="190.8" r="2.95"/><circle cx="1492.7" cy="200.4" r="2.95"/><circle cx="1503.7" cy="209.1" r="2.95"/><circle cx="1514.6" cy="218.0" r="2.95"/><circle cx="1525.6" cy="222.7" r="2.95"/><circle cx="1536.6" cy="232.3" r="2.95"/><circle cx="1547.5" cy="239.3" r="2.95"/><circle cx="1558.5" cy="248.2" r="2.95"/><circle cx="1569.5" cy="251.6" r="2.95"/><circle cx="1580.5" cy="255.8" r="2.95"/><circle cx="1591.5" cy="256.6" r="2.95"/><circle cx="1602.6" cy="265.0" r="2.95"/><circle cx="1613.6" cy="271.3" r="2.95"/><circle cx="1624.7" cy="279.5" r="2.95"/><circle cx="1635.8" cy="291.8" r="2.95"/><circle cx="1646.9" cy="298.0" r="2.95"/><circle cx="1658.1" cy="311.9" r="2.95"/><circle cx="1669.3" cy="320.6" r="2.95"/><circle cx="1680.6" cy="329.3" r="2.95"/><circle cx="1692.0" cy="344.1" r="2.95"/><circle cx="1703.4" cy="352.4" r="2.95"/><circle cx="1714.9" cy="366.3" r="2.95"/><circle cx="1726.5" cy="384.6" r="2.95"/><circle cx="1738.3" cy="401.2" r="2.95"/><circle cx="1750.3" cy="407.8" r="2.95"/><circle cx="1762.4" cy="424.2" r="2.95"/><circle cx="1774.8" cy="441.8" r="2.95"/><circle cx="1787.6" cy="471.9" r="2.95"/><circle cx="1800.8" cy="481.9" r="2.95"/><circle cx="1814.5" cy="483.8" r="2.95"/></g>
</g>
<line x1="366.00" y1="90.90" x2="427.60" y2="90.90" stroke="#ff0000" stroke-width="1.8" />
<circle cx="396.7" cy="90.9" r="2.95" fill="#ff0000"/>
<text x="438.5" y="98.9" font-size="25" text-anchor="start" >PA = 84°–96°</text>
<line x1="366.00" y1="123.10" x2="427.60" y2="123.10" stroke="#008000" stroke-width="1.8" />
<circle cx="396.7" cy="123.1" r="2.95" fill="#008000"/>
<text x="438.5" y="131.1" font-size="25" text-anchor="start" >PA = 60°–72°</text>
<line x1="366.00" y1="155.90" x2="427.60" y2="155.90" stroke="#00bfbf" stroke-width="1.8" />
<circle cx="396.7" cy="155.9" r="2.95" fill="#00bfbf"/>
<text x="438.5" y="163.9" font-size="25" text-anchor="start" >PA = 24°–36°</text>
<line x1="366.00" y1="188.40" x2="427.60" y2="188.40" stroke="#000000" stroke-width="1.8" />
<circle cx="396.7" cy="188.4" r="2.95" fill="#000000"/>
<text x="438.5" y="196.4" font-size="25" text-anchor="start" >PA = 0°–12°</text>
<line x1="994.30" y1="88.40" x2="1055.90" y2="88.40" stroke="#ff0000" stroke-width="1.8" />
<circle cx="1025.0" cy="88.4" r="2.95" fill="#ff0000"/>
<text x="1066.8" y="96.0" font-size="25" text-anchor="start" >PA = 84°–96°</text>
<line x1="994.30" y1="120.70" x2="1055.90" y2="120.70" stroke="#008000" stroke-width="1.8" />
<circle cx="1025.0" cy="120.7" r="2.95" fill="#008000"/>
<text x="1066.8" y="128.3" font-size="25" text-anchor="start" >PA = 60°–72°</text>
<line x1="994.30" y1="153.40" x2="1055.90" y2="153.40" stroke="#00bfbf" stroke-width="1.8" />
<circle cx="1025.0" cy="153.4" r="2.95" fill="#00bfbf"/>
<text x="1066.8" y="161.0" font-size="25" text-anchor="start" >PA = 24°–36°</text>
<line x1="994.30" y1="185.90" x2="1055.90" y2="185.90" stroke="#000000" stroke-width="1.8" />
<circle cx="1025.0" cy="185.9" r="2.95" fill="#000000"/>
<text x="1066.8" y="193.5" font-size="25" text-anchor="start" >PA = 0°–12°</text>
<line x1="974.4" y1="400.6" x2="974.4" y2="329.1" stroke="#000" stroke-width="3.0"/>
<polygon points="974.4,300.1 982.7,330.1 966.1,330.1" fill="#000"/>
<text x="864.5" y="400.6" font-size="28.7" text-anchor="start" >Parallel</text>
<text x="864.3" y="435.5" font-size="28.7" text-anchor="start" >acceleration</text>
<line x1="1592.5" y1="373.9" x2="1592.5" y2="302.8" stroke="#000" stroke-width="3.0"/>
<polygon points="1592.5,274.3 1600.5,303.8 1584.5,303.8" fill="#000"/>
<text x="1471.3" y="390.5" font-size="28.7" text-anchor="start" >Parallel</text>
<text x="1470.6" y="425.2" font-size="28.7" text-anchor="start" >acceleration</text>
<line x1="1534.2" y1="204.2" x2="1557.7" y2="164.2" stroke="#000" stroke-width="2.0"/>
<polygon points="1566.9,148.6 1562.1,168.0 1552.3,162.2" fill="#000"/>
<text x="1580.3" y="95.7" font-size="28.7" text-anchor="start" >Source of</text>
<text x="1580.3" y="130.8" font-size="28.7" text-anchor="start" >upper-band</text>
<text x="1580.0" y="165.8" font-size="28.7" text-anchor="start" >chorus</text>
<line x1="1813.5" y1="441.2" x2="1818.6" y2="349.6" stroke="#000" stroke-width="2.0"/>
<polygon points="1819.6,330.6 1824.1,350.9 1812.9,350.3" fill="#000"/>
<text x="1736.5" y="249.2" font-size="28.7" text-anchor="start" >Source of</text>
<text x="1736.5" y="284.4" font-size="28.7" text-anchor="start" >lower-band</text>
<text x="1736.5" y="318.6" font-size="28.7" text-anchor="start" >chorus</text>
<clipPath id="clipB0"><rect x="116.40" y="683.50" width="518.20" height="430.50"/></clipPath>
<g clip-path="url(#clipB0)" shape-rendering="crispEdges">
<rect x="126.90" y="681.50" width="509.70" height="434.50" fill="#000080"/>
<rect x="152.78" y="1096.92" width="25.90" height="6.81" fill="#0000c8"/>
<rect x="152.78" y="1103.71" width="25.90" height="6.81" fill="#00e0f8"/>
<rect x="152.78" y="1110.50" width="25.90" height="6.81" fill="#00c0ff"/>
<rect x="204.54" y="1042.62" width="25.90" height="6.81" fill="#0020ff"/>
<rect x="204.54" y="1049.41" width="25.90" height="6.81" fill="#0068ff"/>
<rect x="204.54" y="1056.20" width="25.90" height="6.81" fill="#0000e0"/>
<rect x="230.42" y="1008.68" width="25.90" height="6.81" fill="#0050ff"/>
<rect x="230.42" y="1015.47" width="25.90" height="6.81" fill="#008cff"/>
<rect x="256.30" y="974.74" width="25.90" height="6.81" fill="#20ffd0"/>
<rect x="256.30" y="981.53" width="25.90" height="6.81" fill="#a0ff50"/>
<rect x="256.30" y="988.32" width="25.90" height="6.81" fill="#00e8f0"/>
<rect x="282.18" y="934.01" width="25.90" height="6.81" fill="#0000ff"/>
<rect x="282.18" y="940.80" width="25.90" height="6.81" fill="#0060ff"/>
<rect x="282.18" y="947.59" width="25.90" height="6.81" fill="#c8ff30"/>
<rect x="282.18" y="954.38" width="25.90" height="6.81" fill="#b8ff40"/>
<rect x="282.18" y="961.16" width="25.90" height="6.81" fill="#0010ff"/>
<rect x="282.18" y="967.95" width="25.90" height="6.81" fill="#0000d8"/>
<rect x="308.06" y="913.65" width="25.90" height="6.81" fill="#0000ff"/>
<rect x="308.06" y="920.44" width="25.90" height="6.81" fill="#90ff70"/>
<rect x="308.06" y="927.22" width="25.90" height="6.81" fill="#c0ff38"/>
<rect x="308.06" y="934.01" width="25.90" height="6.81" fill="#40ffb8"/>
<rect x="308.06" y="940.80" width="25.90" height="6.81" fill="#000090"/>
<rect x="333.94" y="886.50" width="25.90" height="6.81" fill="#0040ff"/>
<rect x="333.94" y="893.28" width="25.90" height="6.81" fill="#fff000"/>
<rect x="333.94" y="900.07" width="25.90" height="6.81" fill="#ff6000"/>
<rect x="333.94" y="906.86" width="25.90" height="6.81" fill="#ffd000"/>
<rect x="333.94" y="913.65" width="25.90" height="6.81" fill="#00c0ff"/>
<rect x="359.82" y="859.34" width="25.90" height="6.81" fill="#0000e0"/>
<rect x="359.82" y="866.13" width="25.90" height="6.81" fill="#00a0ff"/>
<rect x="359.82" y="872.92" width="25.90" height="6.81" fill="#ff8000"/>
<rect x="359.82" y="879.71" width="25.90" height="6.81" fill="#ff2000"/>
<rect x="359.82" y="886.50" width="25.90" height="6.81" fill="#ffc800"/>
<rect x="359.82" y="893.28" width="25.90" height="6.81" fill="#000090"/>
<rect x="385.70" y="845.77" width="25.90" height="6.81" fill="#0090ff"/>
<rect x="385.70" y="852.56" width="25.90" height="6.81" fill="#ffc800"/>
<rect x="385.70" y="859.34" width="25.90" height="6.81" fill="#ff4000"/>
<rect x="385.70" y="866.13" width="25.90" height="6.81" fill="#ff9800"/>
<rect x="385.70" y="872.92" width="25.90" height="6.81" fill="#10ffe0"/>
<rect x="411.58" y="825.40" width="25.90" height="6.81" fill="#000098"/>
<rect x="411.58" y="832.19" width="25.90" height="6.81" fill="#00d8ff"/>
<rect x="411.58" y="838.98" width="25.90" height="6.81" fill="#ffe000"/>
<rect x="411.58" y="845.77" width="25.90" height="6.81" fill="#ff7000"/>
<rect x="411.58" y="852.56" width="25.90" height="6.81" fill="#e8ff10"/>
<rect x="411.58" y="859.34" width="25.90" height="6.81" fill="#0000b0"/>
<rect x="411.58" y="1110.50" width="25.90" height="6.81" fill="#0000b8"/>
<rect x="437.46" y="818.62" width="25.90" height="6.81" fill="#0020ff"/>
<rect x="437.46" y="825.40" width="25.90" height="6.81" fill="#a0ff58"/>
<rect x="437.46" y="832.19" width="25.90" height="6.81" fill="#ffd000"/>
<rect x="437.46" y="838.98" width="25.90" height="6.81" fill="#a0ff58"/>
<rect x="463.34" y="818.62" width="25.90" height="6.81" fill="#0058ff"/>
<rect x="463.34" y="825.40" width="25.90" height="6.81" fill="#00b0ff"/>
<rect x="463.34" y="832.19" width="25.90" height="6.81" fill="#0000a8"/>
<rect x="489.22" y="805.04" width="25.90" height="6.81" fill="#0000a8"/>
<rect x="489.22" y="811.83" width="25.90" height="6.81" fill="#0000a8"/>
<rect x="515.10" y="805.04" width="25.90" height="6.81" fill="#000090"/>
</g>
<clipPath id="clipB1"><rect x="743.90" y="683.50" width="518.20" height="430.50"/></clipPath>
<g clip-path="url(#clipB1)" shape-rendering="crispEdges">
<rect x="754.40" y="681.50" width="509.70" height="434.50" fill="#000080"/>
<rect x="780.28" y="1103.71" width="25.90" height="6.81" fill="#00b8ff"/>
<rect x="780.28" y="1110.50" width="25.90" height="6.81" fill="#00b8ff"/>
<rect x="806.16" y="1069.77" width="25.90" height="6.81" fill="#0000a8"/>
<rect x="806.16" y="1076.56" width="25.90" height="6.81" fill="#00c8ff"/>
<rect x="806.16" y="1083.35" width="25.90" height="6.81" fill="#0088ff"/>
<rect x="832.04" y="1042.62" width="25.90" height="6.81" fill="#98ff58"/>
<rect x="832.04" y="1049.41" width="25.90" height="6.81" fill="#f0ff00"/>
<rect x="832.04" y="1056.20" width="25.90" height="6.81" fill="#58ffa0"/>
<rect x="857.92" y="1001.89" width="25.90" height="6.81" fill="#0064ff"/>
<rect x="857.92" y="1008.68" width="25.90" height="6.81" fill="#00d0ff"/>
<rect x="857.92" y="1015.47" width="25.90" height="6.81" fill="#30ffc8"/>
<rect x="857.92" y="1022.26" width="25.90" height="6.81" fill="#00a0ff"/>
<rect x="883.80" y="967.95" width="25.90" height="6.81" fill="#0028ff"/>
<rect x="883.80" y="974.74" width="25.90" height="6.81" fill="#a8ff50"/>
<rect x="883.80" y="981.53" width="25.90" height="6.81" fill="#ff5000"/>
<rect x="883.80" y="988.32" width="25.90" height="6.81" fill="#ff7800"/>
<rect x="883.80" y="995.10" width="25.90" height="6.81" fill="#38ffc0"/>
<rect x="883.80" y="1001.89" width="25.90" height="6.81" fill="#0000e8"/>
<rect x="909.68" y="934.01" width="25.90" height="6.81" fill="#0000e8"/>
<rect x="909.68" y="940.80" width="25.90" height="6.81" fill="#00d8ff"/>
<rect x="909.68" y="947.59" width="25.90" height="6.81" fill="#f01000"/>
<rect x="909.68" y="954.38" width="25.90" height="6.81" fill="#880000"/>
<rect x="909.68" y="961.16" width="25.90" height="6.81" fill="#ff8800"/>
<rect x="909.68" y="967.95" width="25.90" height="6.81" fill="#0000c0"/>
<rect x="909.68" y="974.74" width="25.90" height="6.81" fill="#0000ff"/>
<rect x="935.56" y="913.65" width="25.90" height="6.81" fill="#0070ff"/>
<rect x="935.56" y="920.44" width="25.90" height="6.81" fill="#f0ff00"/>
<rect x="935.56" y="927.22" width="25.90" height="6.81" fill="#ffb800"/>
<rect x="935.56" y="934.01" width="25.90" height="6.81" fill="#78ff80"/>
<rect x="961.44" y="879.71" width="25.90" height="6.81" fill="#0000c0"/>
<rect x="961.44" y="886.50" width="25.90" height="6.81" fill="#0000c0"/>
<rect x="961.44" y="893.28" width="25.90" height="6.81" fill="#ff5000"/>
<rect x="961.44" y="900.07" width="25.90" height="6.81" fill="#b00000"/>
<rect x="961.44" y="906.86" width="25.90" height="6.81" fill="#ff9000"/>
<rect x="987.32" y="859.34" width="25.90" height="6.81" fill="#0000a0"/>
<rect x="987.32" y="866.13" width="25.90" height="6.81" fill="#60ff98"/>
<rect x="987.32" y="872.92" width="25.90" height="6.81" fill="#a00000"/>
<rect x="987.32" y="879.71" width="25.90" height="6.81" fill="#800000"/>
<rect x="987.32" y="886.50" width="25.90" height="6.81" fill="#ff6800"/>
<rect x="987.32" y="893.28" width="25.90" height="6.81" fill="#0040ff"/>
<rect x="987.32" y="900.07" width="25.90" height="6.81" fill="#000098"/>
<rect x="987.32" y="1110.50" width="25.90" height="6.81" fill="#0010ff"/>
<rect x="1013.20" y="845.77" width="25.90" height="6.81" fill="#000088"/>
<rect x="1013.20" y="852.56" width="25.90" height="6.81" fill="#ff1800"/>
<rect x="1013.20" y="859.34" width="25.90" height="6.81" fill="#800000"/>
<rect x="1013.20" y="866.13" width="25.90" height="6.81" fill="#e80000"/>
<rect x="1013.20" y="872.92" width="25.90" height="6.81" fill="#0000ff"/>
<rect x="1039.08" y="825.40" width="25.90" height="6.81" fill="#0028ff"/>
<rect x="1039.08" y="832.19" width="25.90" height="6.81" fill="#78ff80"/>
<rect x="1039.08" y="838.98" width="25.90" height="6.81" fill="#a80000"/>
<rect x="1039.08" y="845.77" width="25.90" height="6.81" fill="#800000"/>
<rect x="1039.08" y="852.56" width="25.90" height="6.81" fill="#ff9000"/>
<rect x="1039.08" y="859.34" width="25.90" height="6.81" fill="#0098ff"/>
<rect x="1064.96" y="818.62" width="25.90" height="6.81" fill="#00c0ff"/>
<rect x="1064.96" y="825.40" width="25.90" height="6.81" fill="#ff3000"/>
<rect x="1064.96" y="832.19" width="25.90" height="6.81" fill="#c00000"/>
<rect x="1064.96" y="838.98" width="25.90" height="6.81" fill="#ffb000"/>
<rect x="1064.96" y="1110.50" width="25.90" height="6.81" fill="#0000b0"/>
<rect x="1090.84" y="811.83" width="25.90" height="6.81" fill="#38ffc0"/>
<rect x="1090.84" y="818.62" width="25.90" height="6.81" fill="#e8ff10"/>
<rect x="1090.84" y="825.40" width="25.90" height="6.81" fill="#b0ff48"/>
<rect x="1090.84" y="832.19" width="25.90" height="6.81" fill="#0000e8"/>
<rect x="1116.72" y="805.04" width="25.90" height="6.81" fill="#00f0f0"/>
<rect x="1116.72" y="811.83" width="25.90" height="6.81" fill="#68ff90"/>
<rect x="1116.72" y="818.62" width="25.90" height="6.81" fill="#00b8ff"/>
<rect x="1168.48" y="798.25" width="25.90" height="6.81" fill="#0000a0"/>
</g>
<clipPath id="clipB2"><rect x="1371.80" y="683.50" width="518.20" height="430.50"/></clipPath>
<g clip-path="url(#clipB2)" shape-rendering="crispEdges">
<rect x="1382.30" y="681.50" width="509.70" height="434.50" fill="#000080"/>
<rect x="1408.18" y="1103.71" width="25.90" height="6.81" fill="#0000b8"/>
<rect x="1434.06" y="1069.77" width="25.90" height="6.81" fill="#0000c0"/>
<rect x="1434.06" y="1076.56" width="25.90" height="6.81" fill="#10ffe0"/>
<rect x="1434.06" y="1083.35" width="25.90" height="6.81" fill="#10ffe0"/>
<rect x="1434.06" y="1090.14" width="25.90" height="6.81" fill="#0000c0"/>
<rect x="1459.94" y="1042.62" width="25.90" height="6.81" fill="#60ff98"/>
<rect x="1459.94" y="1049.41" width="25.90" height="6.81" fill="#d8ff20"/>
<rect x="1459.94" y="1056.20" width="25.90" height="6.81" fill="#58ffa0"/>
<rect x="1485.82" y="1008.68" width="25.90" height="6.81" fill="#98ff58"/>
<rect x="1485.82" y="1015.47" width="25.90" height="6.81" fill="#ffc000"/>
<rect x="1485.82" y="1022.26" width="25.90" height="6.81" fill="#b8ff48"/>
<rect x="1485.82" y="1029.04" width="25.90" height="6.81" fill="#0048ff"/>
<rect x="1485.82" y="1035.83" width="25.90" height="6.81" fill="#0010ff"/>
<rect x="1511.70" y="967.95" width="25.90" height="6.81" fill="#0000c0"/>
<rect x="1511.70" y="974.74" width="25.90" height="6.81" fill="#88ff70"/>
<rect x="1511.70" y="981.53" width="25.90" height="6.81" fill="#ff8800"/>
<rect x="1511.70" y="988.32" width="25.90" height="6.81" fill="#ffc800"/>
<rect x="1511.70" y="995.10" width="25.90" height="6.81" fill="#0040ff"/>
<rect x="1537.58" y="940.80" width="25.90" height="6.81" fill="#0090ff"/>
<rect x="1537.58" y="947.59" width="25.90" height="6.81" fill="#ff8000"/>
<rect x="1537.58" y="954.38" width="25.90" height="6.81" fill="#ff3000"/>
<rect x="1537.58" y="961.16" width="25.90" height="6.81" fill="#e0ff18"/>
<rect x="1537.58" y="967.95" width="25.90" height="6.81" fill="#0000c0"/>
<rect x="1563.46" y="913.65" width="25.90" height="6.81" fill="#0010ff"/>
<rect x="1563.46" y="920.44" width="25.90" height="6.81" fill="#0028ff"/>
<rect x="1589.34" y="879.71" width="25.90" height="6.81" fill="#000090"/>
<rect x="1589.34" y="893.28" width="25.90" height="6.81" fill="#00d0ff"/>
<rect x="1589.34" y="900.07" width="25.90" height="6.81" fill="#30ffc8"/>
<rect x="1589.34" y="906.86" width="25.90" height="6.81" fill="#0030ff"/>
<rect x="1615.22" y="866.13" width="25.90" height="6.81" fill="#0000c0"/>
<rect x="1615.22" y="872.92" width="25.90" height="6.81" fill="#f0ff00"/>
<rect x="1615.22" y="879.71" width="25.90" height="6.81" fill="#ffb800"/>
<rect x="1615.22" y="886.50" width="25.90" height="6.81" fill="#50ffa8"/>
<rect x="1641.10" y="852.56" width="25.90" height="6.81" fill="#ffd800"/>
<rect x="1641.10" y="859.34" width="25.90" height="6.81" fill="#ff4800"/>
<rect x="1641.10" y="866.13" width="25.90" height="6.81" fill="#ffe000"/>
<rect x="1666.98" y="832.19" width="25.90" height="6.81" fill="#0098ff"/>
<rect x="1666.98" y="838.98" width="25.90" height="6.81" fill="#ff7800"/>
<rect x="1666.98" y="845.77" width="25.90" height="6.81" fill="#ff3000"/>
<rect x="1666.98" y="852.56" width="25.90" height="6.81" fill="#e0ff18"/>
<rect x="1666.98" y="859.34" width="25.90" height="6.81" fill="#0008ff"/>
<rect x="1692.86" y="825.40" width="25.90" height="6.81" fill="#b8ff40"/>
<rect x="1692.86" y="832.19" width="25.90" height="6.81" fill="#ffc000"/>
<rect x="1692.86" y="838.98" width="25.90" height="6.81" fill="#98ff60"/>
<rect x="1718.74" y="811.83" width="25.90" height="6.81" fill="#0000e0"/>
<rect x="1718.74" y="818.62" width="25.90" height="6.81" fill="#0088ff"/>
<rect x="1718.74" y="825.40" width="25.90" height="6.81" fill="#0030ff"/>
<rect x="1744.62" y="811.83" width="25.90" height="6.81" fill="#0000a8"/>
<rect x="1796.38" y="798.25" width="25.90" height="6.81" fill="#0010e8"/>
</g>
<line x1="101.1" y1="921.2" x2="634.6" y2="921.2" stroke="#ffff00" stroke-width="2" stroke-dasharray="7 2.9"/>
<line x1="742.4" y1="921.2" x2="1262.1" y2="921.2" stroke="#ffff00" stroke-width="2" stroke-dasharray="7 2.9" stroke-dashoffset="5.3"/>
<line x1="1373.3" y1="921.2" x2="1890.0" y2="921.2" stroke="#ffff00" stroke-width="2" stroke-dasharray="7 2.9" stroke-dashoffset="3.8"/>
<text x="392.5" y="1008.3" fill="#fff"><tspan font-style="italic">k</tspan> = 1</text>
<line x1="462.4" y1="1000.3" x2="610.2" y2="1000.3" stroke="#c8c8f0" stroke-width="1.1" stroke-dasharray="4.6 5.2" stroke-dashoffset="-4"/>
<polyline points="462.40,1000.30 463.14,1000.00 463.88,999.69 464.62,999.39 465.36,999.08 466.09,998.78 466.83,998.48 467.57,998.18 468.31,997.89 469.05,997.59 469.79,997.30 470.53,997.01 471.27,996.73 472.01,996.45 472.75,996.17 473.48,995.90 474.22,995.63 474.96,995.36 475.70,995.10 476.44,994.85 477.18,994.60 477.92,994.35 478.66,994.12 479.40,993.89 480.14,993.66 480.88,993.44 481.61,993.23 482.35,993.02 483.09,992.83 483.83,992.64 484.57,992.45 485.31,992.28 486.05,992.11 486.79,991.95 487.53,991.80 488.26,991.66 489.00,991.52 489.74,991.40 490.48,991.28 491.22,991.17 491.96,991.07 492.70,990.99 493.44,990.90 494.18,990.83 494.92,990.77 495.65,990.72 496.39,990.68 497.13,990.64 497.87,990.62 498.61,990.60 499.35,990.60 500.09,990.60 500.83,990.62 501.57,990.64 502.31,990.68 503.04,990.72 503.78,990.77 504.52,990.83 505.26,990.90 506.00,990.99 506.74,991.07 507.48,991.17 508.22,991.28 508.96,991.40 509.70,991.52 510.44,991.66 511.17,991.80 511.91,991.95 512.65,992.11 513.39,992.28 514.13,992.45 514.87,992.64 515.61,992.83 516.35,993.02 517.09,993.23 517.82,993.44 518.56,993.66 519.30,993.89 520.04,994.12 520.78,994.35 521.52,994.60 522.26,994.85 523.00,995.10 523.74,995.36 524.48,995.63 525.22,995.90 525.95,996.17 526.69,996.45 527.43,996.73 528.17,997.01 528.91,997.30 529.65,997.59 530.39,997.89 531.13,998.18 531.87,998.48 532.61,998.78 533.34,999.08 534.08,999.39 534.82,999.69 535.56,1000.00 536.30,1000.30 537.04,1000.60 537.78,1000.91 538.52,1001.21 539.26,1001.52 540.00,1001.82 540.73,1002.12 541.47,1002.42 542.21,1002.71 542.95,1003.01 543.69,1003.30 544.43,1003.59 545.17,1003.87 545.91,1004.15 546.65,1004.43 547.38,1004.70 548.12,1004.97 548.86,1005.24 549.60,1005.50 550.34,1005.75 551.08,1006.00 551.82,1006.25 552.56,1006.48 553.30,1006.71 554.04,1006.94 554.77,1007.16 555.51,1007.37 556.25,1007.58 556.99,1007.77 557.73,1007.96 558.47,1008.15 559.21,1008.32 559.95,1008.49 560.69,1008.65 561.43,1008.80 562.16,1008.94 562.90,1009.08 563.64,1009.20 564.38,1009.32 565.12,1009.43 565.86,1009.53 566.60,1009.61 567.34,1009.70 568.08,1009.77 568.82,1009.83 569.55,1009.88 570.29,1009.92 571.03,1009.96 571.77,1009.98 572.51,1010.00 573.25,1010.00 573.99,1010.00 574.73,1009.98 575.47,1009.96 576.21,1009.92 576.94,1009.88 577.68,1009.83 578.42,1009.77 579.16,1009.70 579.90,1009.61 580.64,1009.53 581.38,1009.43 582.12,1009.32 582.86,1009.20 583.60,1009.08 584.34,1008.94 585.07,1008.80 585.81,1008.65 586.55,1008.49 587.29,1008.32 588.03,1008.15 588.77,1007.96 589.51,1007.77 590.25,1007.58 590.99,1007.37 591.73,1007.16 592.46,1006.94 593.20,1006.71 593.94,1006.48 594.68,1006.25 595.42,1006.00 596.16,1005.75 596.90,1005.50 597.64,1005.24 598.38,1004.97 599.12,1004.70 599.85,1004.43 600.59,1004.15 601.33,1003.87 602.07,1003.59 602.81,1003.30 603.55,1003.01 604.29,1002.71 605.03,1002.42 605.77,1002.12 606.50,1001.82 607.24,1001.52 607.98,1001.21 608.72,1000.91 609.46,1000.60 610.20,1000.30" fill="none" stroke="#f0f000" stroke-width="1.3"/>
<text x="392.5" y="1047.7" fill="#fff"><tspan font-style="italic">k</tspan> = 2</text>
<line x1="462.4" y1="1036.3" x2="610.2" y2="1036.3" stroke="#c8c8f0" stroke-width="1.1" stroke-dasharray="4.6 5.2" stroke-dashoffset="-4"/>
<polyline points="462.40,1036.30 463.14,1035.69 463.88,1035.08 464.62,1034.48 465.36,1033.89 466.09,1033.30 466.83,1032.73 467.57,1032.17 468.31,1031.63 469.05,1031.10 469.79,1030.60 470.53,1030.12 471.27,1029.66 472.01,1029.23 472.75,1028.83 473.48,1028.45 474.22,1028.11 474.96,1027.80 475.70,1027.52 476.44,1027.28 477.18,1027.07 477.92,1026.90 478.66,1026.77 479.40,1026.68 480.14,1026.62 480.88,1026.60 481.61,1026.62 482.35,1026.68 483.09,1026.77 483.83,1026.90 484.57,1027.07 485.31,1027.28 486.05,1027.52 486.79,1027.80 487.53,1028.11 488.26,1028.45 489.00,1028.83 489.74,1029.23 490.48,1029.66 491.22,1030.12 491.96,1030.60 492.70,1031.10 493.44,1031.63 494.18,1032.17 494.92,1032.73 495.65,1033.30 496.39,1033.89 497.13,1034.48 497.87,1035.08 498.61,1035.69 499.35,1036.30 500.09,1036.91 500.83,1037.52 501.57,1038.12 502.31,1038.71 503.04,1039.30 503.78,1039.87 504.52,1040.43 505.26,1040.97 506.00,1041.50 506.74,1042.00 507.48,1042.48 508.22,1042.94 508.96,1043.37 509.70,1043.77 510.44,1044.15 511.17,1044.49 511.91,1044.80 512.65,1045.08 513.39,1045.32 514.13,1045.53 514.87,1045.70 515.61,1045.83 516.35,1045.92 517.09,1045.98 517.82,1046.00 518.56,1045.98 519.30,1045.92 520.04,1045.83 520.78,1045.70 521.52,1045.53 522.26,1045.32 523.00,1045.08 523.74,1044.80 524.48,1044.49 525.22,1044.15 525.95,1043.77 526.69,1043.37 527.43,1042.94 528.17,1042.48 528.91,1042.00 529.65,1041.50 530.39,1040.97 531.13,1040.43 531.87,1039.87 532.61,1039.30 533.34,1038.71 534.08,1038.12 534.82,1037.52 535.56,1036.91 536.30,1036.30 537.04,1035.69 537.78,1035.08 538.52,1034.48 539.26,1033.89 540.00,1033.30 540.73,1032.73 541.47,1032.17 542.21,1031.63 542.95,1031.10 543.69,1030.60 544.43,1030.12 545.17,1029.66 545.91,1029.23 546.65,1028.83 547.38,1028.45 548.12,1028.11 548.86,1027.80 549.60,1027.52 550.34,1027.28 551.08,1027.07 551.82,1026.90 552.56,1026.77 553.30,1026.68 554.04,1026.62 554.77,1026.60 555.51,1026.62 556.25,1026.68 556.99,1026.77 557.73,1026.90 558.47,1027.07 559.21,1027.28 559.95,1027.52 560.69,1027.80 561.43,1028.11 562.16,1028.45 562.90,1028.83 563.64,1029.23 564.38,1029.66 565.12,1030.12 565.86,1030.60 566.60,1031.10 567.34,1031.63 568.08,1032.17 568.82,1032.73 569.55,1033.30 570.29,1033.89 571.03,1034.48 571.77,1035.08 572.51,1035.69 573.25,1036.30 573.99,1036.91 574.73,1037.52 575.47,1038.12 576.21,1038.71 576.94,1039.30 577.68,1039.87 578.42,1040.43 579.16,1040.97 579.90,1041.50 580.64,1042.00 581.38,1042.48 582.12,1042.94 582.86,1043.37 583.60,1043.77 584.34,1044.15 585.07,1044.49 585.81,1044.80 586.55,1045.08 587.29,1045.32 588.03,1045.53 588.77,1045.70 589.51,1045.83 590.25,1045.92 590.99,1045.98 591.73,1046.00 592.46,1045.98 593.20,1045.92 593.94,1045.83 594.68,1045.70 595.42,1045.53 596.16,1045.32 596.90,1045.08 597.64,1044.80 598.38,1044.49 599.12,1044.15 599.85,1043.77 600.59,1043.37 601.33,1042.94 602.07,1042.48 602.81,1042.00 603.55,1041.50 604.29,1040.97 605.03,1040.43 605.77,1039.87 606.50,1039.30 607.24,1038.71 607.98,1038.12 608.72,1037.52 609.46,1036.91 610.20,1036.30" fill="none" stroke="#f0f000" stroke-width="1.3"/>
<text x="392.5" y="1086.6" fill="#fff"><tspan font-style="italic">k</tspan> = 3</text>
<line x1="462.4" y1="1072.1" x2="610.2" y2="1072.1" stroke="#c8c8f0" stroke-width="1.1" stroke-dasharray="4.6 5.2" stroke-dashoffset="-4"/>
<polyline points="462.40,1072.10 463.14,1071.19 463.88,1070.28 464.62,1069.39 465.36,1068.53 466.09,1067.70 466.83,1066.90 467.57,1066.15 468.31,1065.46 469.05,1064.82 469.79,1064.25 470.53,1063.75 471.27,1063.32 472.01,1062.97 472.75,1062.70 473.48,1062.52 474.22,1062.42 474.96,1062.40 475.70,1062.48 476.44,1062.63 477.18,1062.87 477.92,1063.20 478.66,1063.60 479.40,1064.08 480.14,1064.63 480.88,1065.24 481.61,1065.92 482.35,1066.65 483.09,1067.43 483.83,1068.25 484.57,1069.10 485.31,1069.98 486.05,1070.88 486.79,1071.80 487.53,1072.71 488.26,1073.62 489.00,1074.51 489.74,1075.39 490.48,1076.23 491.22,1077.04 491.96,1077.80 492.70,1078.51 493.44,1079.17 494.18,1079.76 494.92,1080.29 495.65,1080.74 496.39,1081.12 497.13,1081.41 497.87,1081.63 498.61,1081.76 499.35,1081.80 500.09,1081.76 500.83,1081.63 501.57,1081.41 502.31,1081.12 503.04,1080.74 503.78,1080.29 504.52,1079.76 505.26,1079.17 506.00,1078.51 506.74,1077.80 507.48,1077.04 508.22,1076.23 508.96,1075.39 509.70,1074.51 510.44,1073.62 511.17,1072.71 511.91,1071.80 512.65,1070.88 513.39,1069.98 514.13,1069.10 514.87,1068.25 515.61,1067.43 516.35,1066.65 517.09,1065.92 517.82,1065.24 518.56,1064.63 519.30,1064.08 520.04,1063.60 520.78,1063.20 521.52,1062.87 522.26,1062.63 523.00,1062.48 523.74,1062.40 524.48,1062.42 525.22,1062.52 525.95,1062.70 526.69,1062.97 527.43,1063.32 528.17,1063.75 528.91,1064.25 529.65,1064.82 530.39,1065.46 531.13,1066.15 531.87,1066.90 532.61,1067.70 533.34,1068.53 534.08,1069.39 534.82,1070.28 535.56,1071.19 536.30,1072.10 537.04,1073.01 537.78,1073.92 538.52,1074.81 539.26,1075.67 540.00,1076.50 540.73,1077.30 541.47,1078.05 542.21,1078.74 542.95,1079.38 543.69,1079.95 544.43,1080.45 545.17,1080.88 545.91,1081.23 546.65,1081.50 547.38,1081.68 548.12,1081.78 548.86,1081.80 549.60,1081.72 550.34,1081.57 551.08,1081.33 551.82,1081.00 552.56,1080.60 553.30,1080.12 554.04,1079.57 554.77,1078.96 555.51,1078.28 556.25,1077.55 556.99,1076.77 557.73,1075.95 558.47,1075.10 559.21,1074.22 559.95,1073.32 560.69,1072.40 561.43,1071.49 562.16,1070.58 562.90,1069.69 563.64,1068.81 564.38,1067.97 565.12,1067.16 565.86,1066.40 566.60,1065.69 567.34,1065.03 568.08,1064.44 568.82,1063.91 569.55,1063.46 570.29,1063.08 571.03,1062.79 571.77,1062.57 572.51,1062.44 573.25,1062.40 573.99,1062.44 574.73,1062.57 575.47,1062.79 576.21,1063.08 576.94,1063.46 577.68,1063.91 578.42,1064.44 579.16,1065.03 579.90,1065.69 580.64,1066.40 581.38,1067.16 582.12,1067.97 582.86,1068.81 583.60,1069.69 584.34,1070.58 585.07,1071.49 585.81,1072.40 586.55,1073.32 587.29,1074.22 588.03,1075.10 588.77,1075.95 589.51,1076.77 590.25,1077.55 590.99,1078.28 591.73,1078.96 592.46,1079.57 593.20,1080.12 593.94,1080.60 594.68,1081.00 595.42,1081.33 596.16,1081.57 596.90,1081.72 597.64,1081.80 598.38,1081.78 599.12,1081.68 599.85,1081.50 600.59,1081.23 601.33,1080.88 602.07,1080.45 602.81,1079.95 603.55,1079.38 604.29,1078.74 605.03,1078.05 605.77,1077.30 606.50,1076.50 607.24,1075.67 607.98,1074.81 608.72,1073.92 609.46,1073.01 610.20,1072.10" fill="none" stroke="#f0f000" stroke-width="1.3"/>
<text x="1561.5" y="774.3" font-size="28.7" text-anchor="start" fill="#fff">Upper-band</text>
<text x="1561.5" y="809.2" font-size="28.7" text-anchor="start" fill="#fff">chorus</text>
<text x="1543.5" y="1033.9" font-size="28.7" text-anchor="start" fill="#fff">Lower-band</text>
<text x="1542.5" y="1068.7" font-size="28.7" text-anchor="start" fill="#fff">chorus</text>
<line x1="116.40" y1="1049.20" x2="129.20" y2="1049.20" stroke="#000" stroke-width="2.6" />
<text x="104.0" y="1060.9" font-size="28.7" text-anchor="end" >0.2</text>
<line x1="116.40" y1="963.20" x2="129.20" y2="963.20" stroke="#000" stroke-width="2.6" />
<text x="104.0" y="974.9" font-size="28.7" text-anchor="end" >0.4</text>
<line x1="116.40" y1="877.20" x2="129.20" y2="877.20" stroke="#000" stroke-width="2.6" />
<text x="104.0" y="888.9" font-size="28.7" text-anchor="end" >0.6</text>
<line x1="116.40" y1="791.20" x2="129.20" y2="791.20" stroke="#000" stroke-width="2.6" />
<text x="104.0" y="802.9" font-size="28.7" text-anchor="end" >0.8</text>
<line x1="116.40" y1="705.20" x2="129.20" y2="705.20" stroke="#000" stroke-width="2.6" />
<text x="104.0" y="716.9" font-size="28.7" text-anchor="end" >1.0</text>
<line x1="245.80" y1="1114.00" x2="245.80" y2="1101.10" stroke="#000" stroke-width="2.6" />
<line x1="375.20" y1="1114.00" x2="375.20" y2="1101.10" stroke="#000" stroke-width="2.6" />
<line x1="504.60" y1="1114.00" x2="504.60" y2="1101.10" stroke="#000" stroke-width="2.6" />
<text x="117.4" y="1149.0" font-size="28.7" text-anchor="middle" >0</text>
<text x="246.8" y="1149.0" font-size="28.7" text-anchor="middle" >5</text>
<text x="376.2" y="1149.0" font-size="28.7" text-anchor="middle" >10</text>
<text x="505.6" y="1149.0" font-size="28.7" text-anchor="middle" >15</text>
<text x="635.0" y="1149.0" font-size="28.7" text-anchor="middle" >20</text>
<rect x="116.40" y="683.50" width="518.20" height="430.50" fill="none" stroke="#000" stroke-width="2.6"/>
<text x="375.5" y="1192" text-anchor="middle"><tspan font-style="italic">k</tspan> mode number</text>
<line x1="743.90" y1="1049.20" x2="756.70" y2="1049.20" stroke="#000" stroke-width="2.6" />
<text x="731.5" y="1060.9" font-size="28.7" text-anchor="end" >0.2</text>
<line x1="743.90" y1="963.20" x2="756.70" y2="963.20" stroke="#000" stroke-width="2.6" />
<text x="731.5" y="974.9" font-size="28.7" text-anchor="end" >0.4</text>
<line x1="743.90" y1="877.20" x2="756.70" y2="877.20" stroke="#000" stroke-width="2.6" />
<text x="731.5" y="888.9" font-size="28.7" text-anchor="end" >0.6</text>
<line x1="743.90" y1="791.20" x2="756.70" y2="791.20" stroke="#000" stroke-width="2.6" />
<text x="731.5" y="802.9" font-size="28.7" text-anchor="end" >0.8</text>
<line x1="743.90" y1="705.20" x2="756.70" y2="705.20" stroke="#000" stroke-width="2.6" />
<text x="731.5" y="716.9" font-size="28.7" text-anchor="end" >1.0</text>
<line x1="873.30" y1="1114.00" x2="873.30" y2="1101.10" stroke="#000" stroke-width="2.6" />
<line x1="1002.70" y1="1114.00" x2="1002.70" y2="1101.10" stroke="#000" stroke-width="2.6" />
<line x1="1132.10" y1="1114.00" x2="1132.10" y2="1101.10" stroke="#000" stroke-width="2.6" />
<text x="744.9" y="1149.0" font-size="28.7" text-anchor="middle" >0</text>
<text x="874.3" y="1149.0" font-size="28.7" text-anchor="middle" >5</text>
<text x="1003.7" y="1149.0" font-size="28.7" text-anchor="middle" >10</text>
<text x="1133.1" y="1149.0" font-size="28.7" text-anchor="middle" >15</text>
<text x="1262.5" y="1149.0" font-size="28.7" text-anchor="middle" >20</text>
<rect x="743.90" y="683.50" width="518.20" height="430.50" fill="none" stroke="#000" stroke-width="2.6"/>
<text x="1003.0" y="1192" text-anchor="middle"><tspan font-style="italic">k</tspan> mode number</text>
<line x1="1371.80" y1="1049.20" x2="1384.60" y2="1049.20" stroke="#000" stroke-width="2.6" />
<text x="1359.4" y="1060.9" font-size="28.7" text-anchor="end" >0.2</text>
<line x1="1371.80" y1="963.20" x2="1384.60" y2="963.20" stroke="#000" stroke-width="2.6" />
<text x="1359.4" y="974.9" font-size="28.7" text-anchor="end" >0.4</text>
<line x1="1371.80" y1="877.20" x2="1384.60" y2="877.20" stroke="#000" stroke-width="2.6" />
<text x="1359.4" y="888.9" font-size="28.7" text-anchor="end" >0.6</text>
<line x1="1371.80" y1="791.20" x2="1384.60" y2="791.20" stroke="#000" stroke-width="2.6" />
<text x="1359.4" y="802.9" font-size="28.7" text-anchor="end" >0.8</text>
<line x1="1371.80" y1="705.20" x2="1384.60" y2="705.20" stroke="#000" stroke-width="2.6" />
<text x="1359.4" y="716.9" font-size="28.7" text-anchor="end" >1.0</text>
<line x1="1501.20" y1="1114.00" x2="1501.20" y2="1101.10" stroke="#000" stroke-width="2.6" />
<line x1="1630.60" y1="1114.00" x2="1630.60" y2="1101.10" stroke="#000" stroke-width="2.6" />
<line x1="1760.00" y1="1114.00" x2="1760.00" y2="1101.10" stroke="#000" stroke-width="2.6" />
<text x="1372.8" y="1149.0" font-size="28.7" text-anchor="middle" >0</text>
<text x="1502.2" y="1149.0" font-size="28.7" text-anchor="middle" >5</text>
<text x="1631.6" y="1149.0" font-size="28.7" text-anchor="middle" >10</text>
<text x="1761.0" y="1149.0" font-size="28.7" text-anchor="middle" >15</text>
<text x="1890.4" y="1149.0" font-size="28.7" text-anchor="middle" >20</text>
<rect x="1371.80" y="683.50" width="518.20" height="430.50" fill="none" stroke="#000" stroke-width="2.6"/>
<text x="1630.9" y="1192" text-anchor="middle"><tspan font-style="italic">k</tspan> mode number</text>
<text transform="translate(35.2,936.6) rotate(-90)" x="0" y="0" letter-spacing="0"><tspan font-family="'Liberation Serif', serif" font-size="31">ω</tspan>/<tspan font-family="'Liberation Serif', serif" font-size="31">ω</tspan><tspan font-size="21.0" dy="7">ce</tspan></text>
<text x="224.5" y="662.7">FFT over 50–100 <tspan font-family="'Liberation Serif', serif" font-size="33">τ</tspan><tspan font-size="21" dy="7.5">gyro</tspan></text>
<text x="852.5" y="663.2">FFT over 150–200 <tspan font-family="'Liberation Serif', serif" font-size="33">τ</tspan><tspan font-size="21" dy="7.5">gyro</tspan></text>
<text x="1480.5" y="663.0">FFT over 800–850 <tspan font-family="'Liberation Serif', serif" font-size="33">τ</tspan><tspan font-size="21" dy="7.5">gyro</tspan></text>
<defs><linearGradient id="jetg" x1="0" y1="0" x2="0" y2="1"><stop offset="0.0000" stop-color="#800000"/><stop offset="0.0312" stop-color="#9f0000"/><stop offset="0.0625" stop-color="#bf0000"/><stop offset="0.0938" stop-color="#df0000"/><stop offset="0.1250" stop-color="#ff0000"/><stop offset="0.1562" stop-color="#ff2000"/><stop offset="0.1875" stop-color="#ff4000"/><stop offset="0.2188" stop-color="#ff6000"/><stop offset="0.2500" stop-color="#ff8000"/><stop offset="0.2812" stop-color="#ff9f00"/><stop offset="0.3125" stop-color="#ffbf00"/><stop offset="0.3438" stop-color="#ffdf00"/><stop offset="0.3750" stop-color="#ffff00"/><stop offset="0.4062" stop-color="#dfff20"/><stop offset="0.4375" stop-color="#bfff40"/><stop offset="0.4688" stop-color="#9fff60"/><stop offset="0.5000" stop-color="#80ff80"/><stop offset="0.5312" stop-color="#60ff9f"/><stop offset="0.5625" stop-color="#40ffbf"/><stop offset="0.5938" stop-color="#20ffdf"/><stop offset="0.6250" stop-color="#00ffff"/><stop offset="0.6562" stop-color="#00dfff"/><stop offset="0.6875" stop-color="#00bfff"/><stop offset="0.7188" stop-color="#009fff"/><stop offset="0.7500" stop-color="#0080ff"/><stop offset="0.7812" stop-color="#0060ff"/><stop offset="0.8125" stop-color="#0040ff"/><stop offset="0.8438" stop-color="#0020ff"/><stop offset="0.8750" stop-color="#0000ff"/><stop offset="0.9062" stop-color="#0000df"/><stop offset="0.9375" stop-color="#0000bf"/><stop offset="0.9688" stop-color="#00009f"/><stop offset="1.0000" stop-color="#000080"/></linearGradient></defs>
<rect x="1901.3" y="682.9" width="21.5" height="434.0" fill="url(#jetg)" stroke="#000" stroke-width="1"/>
<line x1="1901.30" y1="790.50" x2="1922.80" y2="790.50" stroke="#000" stroke-width="1.2" />
<line x1="1901.30" y1="899.80" x2="1922.80" y2="899.80" stroke="#000" stroke-width="1.2" />
<line x1="1901.30" y1="1009.30" x2="1922.80" y2="1009.30" stroke="#000" stroke-width="1.2" />
<text x="1934.5" y="692.9" text-anchor="start">10<tspan font-size="21.0" dy="-12.6">0</tspan></text>
<text x="1934.5" y="796.9" text-anchor="start">10<tspan font-size="21.0" dy="-10.0">−</tspan><tspan font-size="21.0" dy="-2.6">1</tspan></text>
<text x="1934.5" y="909.0" text-anchor="start">10<tspan font-size="21.0" dy="-10.0">−</tspan><tspan font-size="21.0" dy="-2.6">2</tspan></text>
<text x="1934.5" y="1020.0" text-anchor="start">10<tspan font-size="21.0" dy="-10.0">−</tspan><tspan font-size="21.0" dy="-2.6">3</tspan></text>
<text x="1934.5" y="1116.9" text-anchor="start">10<tspan font-size="21.0" dy="-10.0">−</tspan><tspan font-size="21.0" dy="-2.6">4</tspan></text>
<text transform="translate(2031.5,1101.6) rotate(-90)" x="0" y="0">Magnetic spectra (arbitrary unit)</text>
</svg></body></html>
